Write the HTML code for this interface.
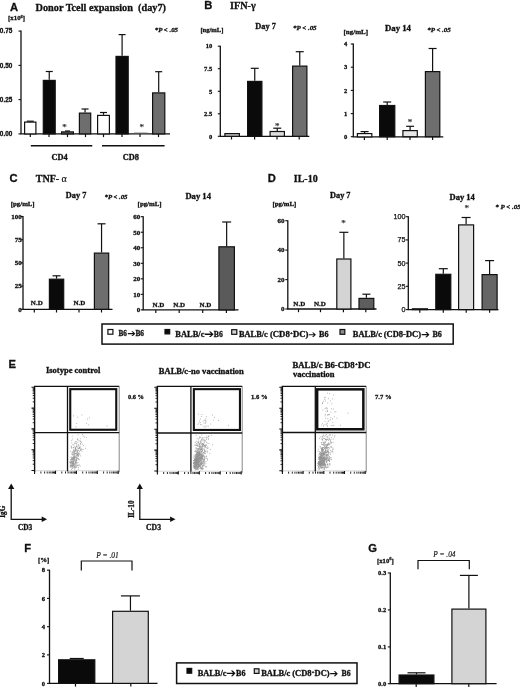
<!DOCTYPE html>
<html><head><meta charset="utf-8"><title>Figure</title>
<style>html,body{margin:0;padding:0;background:#fff}svg{display:block}</style></head>
<body><svg width="520" height="687" viewBox="0 0 520 687">
<rect width="520" height="687" fill="#fff"/>
<text x="10" y="11.1" font-size="11.2" font-weight="bold" font-family='"Liberation Sans", sans-serif' text-anchor="start" font-style="normal" fill="#111"  stroke="#111" stroke-width="0.3">A</text>
<text x="35.5" y="10.9" font-size="10.5" font-weight="bold" font-family='"Liberation Serif", serif' text-anchor="start" font-style="normal" fill="#111" textLength="130.5" lengthAdjust="spacingAndGlyphs"  stroke="#111" stroke-width="0.3">Donor Tcell expansion&#160; (day7)</text>
<text x="8.1" y="20.4" font-size="7" font-weight="bold" font-family='"Liberation Serif", serif' text-anchor="start" font-style="normal" fill="#111" textLength="16.9" lengthAdjust="spacingAndGlyphs"  stroke="#111" stroke-width="0.3">[x10<tspan font-size="4.5" dy="-2.2">6</tspan><tspan dy="2.2">]</tspan></text>
<text x="154.8" y="32" font-size="6.5" font-weight="bold" font-family='"Liberation Serif", serif' text-anchor="start" font-style="italic" fill="#111" textLength="23.2" lengthAdjust="spacingAndGlyphs"  stroke="#111" stroke-width="0.3">*P &lt; .05</text>
<line x1="21" y1="30.6" x2="21" y2="133.9" stroke="#111" stroke-width="1.3"/>
<line x1="20.4" y1="133.9" x2="170" y2="133.9" stroke="#111" stroke-width="1.3"/>
<line x1="18.5" y1="31.1" x2="21" y2="31.1" stroke="#111" stroke-width="1.1"/>
<text x="12.3" y="33.276" font-size="6.4" font-weight="bold" font-family='"Liberation Sans", sans-serif' text-anchor="end" font-style="normal" fill="#111"  stroke="#111" stroke-width="0.3">0.75</text>
<line x1="18.5" y1="65.4" x2="21" y2="65.4" stroke="#111" stroke-width="1.1"/>
<text x="12.3" y="67.57600000000001" font-size="6.4" font-weight="bold" font-family='"Liberation Sans", sans-serif' text-anchor="end" font-style="normal" fill="#111"  stroke="#111" stroke-width="0.3">0.50</text>
<line x1="18.5" y1="99.6" x2="21" y2="99.6" stroke="#111" stroke-width="1.1"/>
<text x="12.3" y="101.776" font-size="6.4" font-weight="bold" font-family='"Liberation Sans", sans-serif' text-anchor="end" font-style="normal" fill="#111"  stroke="#111" stroke-width="0.3">0.25</text>
<line x1="18.5" y1="133.9" x2="21" y2="133.9" stroke="#111" stroke-width="1.1"/>
<text x="12.3" y="136.076" font-size="6.4" font-weight="bold" font-family='"Liberation Sans", sans-serif' text-anchor="end" font-style="normal" fill="#111"  stroke="#111" stroke-width="0.3">0.00</text>
<line x1="30.3" y1="133.9" x2="30.3" y2="137.1" stroke="#111" stroke-width="1.2"/>
<line x1="49" y1="133.9" x2="49" y2="137.1" stroke="#111" stroke-width="1.2"/>
<line x1="67.5" y1="133.9" x2="67.5" y2="137.1" stroke="#111" stroke-width="1.2"/>
<line x1="85.5" y1="133.9" x2="85.5" y2="137.1" stroke="#111" stroke-width="1.2"/>
<line x1="103.5" y1="133.9" x2="103.5" y2="137.1" stroke="#111" stroke-width="1.2"/>
<line x1="122" y1="133.9" x2="122" y2="137.1" stroke="#111" stroke-width="1.2"/>
<line x1="140" y1="133.9" x2="140" y2="137.1" stroke="#111" stroke-width="1.2"/>
<line x1="158.5" y1="133.9" x2="158.5" y2="137.1" stroke="#111" stroke-width="1.2"/>
<line x1="30.25" y1="121.5" x2="30.25" y2="121.2" stroke="#111" stroke-width="1.2"/>
<line x1="26.75" y1="121.2" x2="33.75" y2="121.2" stroke="#111" stroke-width="1.2"/>
<rect x="24.6" y="122.1" width="11.3" height="11.800000000000006" fill="#ffffff" stroke="#111" stroke-width="1.2"/>
<line x1="49.25" y1="79.8" x2="49.25" y2="71.5" stroke="#111" stroke-width="1.2"/>
<line x1="45.75" y1="71.5" x2="52.75" y2="71.5" stroke="#111" stroke-width="1.2"/>
<rect x="43.300000000000004" y="80.39999999999999" width="11.899999999999995" height="53.50000000000001" fill="#0a0a0a" stroke="#111" stroke-width="1.2"/>
<line x1="67.5" y1="131.3" x2="67.5" y2="131" stroke="#111" stroke-width="1.2"/>
<line x1="65.0" y1="131" x2="70.0" y2="131" stroke="#111" stroke-width="1.2"/>
<rect x="61.6" y="131.9" width="11.8" height="1.9999999999999942" fill="#6e6e6e" stroke="#111" stroke-width="1.2"/>
<line x1="85.05" y1="112.5" x2="85.05" y2="109" stroke="#111" stroke-width="1.2"/>
<line x1="81.55" y1="109" x2="88.55" y2="109" stroke="#111" stroke-width="1.2"/>
<rect x="79.39999999999999" y="113.1" width="11.3" height="20.800000000000004" fill="#6e6e6e" stroke="#111" stroke-width="1.2"/>
<line x1="103.5" y1="114.8" x2="103.5" y2="112.5" stroke="#111" stroke-width="1.2"/>
<line x1="100.0" y1="112.5" x2="107.0" y2="112.5" stroke="#111" stroke-width="1.2"/>
<rect x="97.6" y="115.39999999999999" width="11.8" height="18.500000000000007" fill="#ffffff" stroke="#111" stroke-width="1.2"/>
<line x1="122.10000000000001" y1="55.8" x2="122.10000000000001" y2="34.6" stroke="#111" stroke-width="1.2"/>
<line x1="118.60000000000001" y1="34.6" x2="125.60000000000001" y2="34.6" stroke="#111" stroke-width="1.2"/>
<rect x="116.0" y="56.4" width="12.200000000000006" height="77.50000000000001" fill="#0a0a0a" stroke="#111" stroke-width="1.2"/>
<line x1="158.7" y1="92.3" x2="158.7" y2="71.7" stroke="#111" stroke-width="1.2"/>
<line x1="155.2" y1="71.7" x2="162.2" y2="71.7" stroke="#111" stroke-width="1.2"/>
<rect x="152.6" y="92.89999999999999" width="12.200000000000006" height="41.00000000000001" fill="#6e6e6e" stroke="#111" stroke-width="1.2"/>
<line x1="134" y1="133" x2="147.5" y2="133" stroke="#666" stroke-width="0.8"/>
<text x="64.4" y="130.05" font-size="9" font-weight="normal" font-family='"Liberation Serif", serif' text-anchor="middle" font-style="normal" fill="#3a3a3a"  stroke="#3a3a3a" stroke-width="0.25">*</text>
<text x="141.7" y="130.05" font-size="9" font-weight="normal" font-family='"Liberation Serif", serif' text-anchor="middle" font-style="normal" fill="#3a3a3a"  stroke="#3a3a3a" stroke-width="0.25">*</text>
<line x1="30.8" y1="145.8" x2="92.3" y2="145.8" stroke="#111" stroke-width="1.4"/>
<line x1="102" y1="145.8" x2="164.6" y2="145.8" stroke="#111" stroke-width="1.4"/>
<text x="51.5" y="159.6" font-size="8" font-weight="bold" font-family='"Liberation Serif", serif' text-anchor="start" font-style="normal" fill="#111" textLength="16.2" lengthAdjust="spacingAndGlyphs"  stroke="#111" stroke-width="0.3">CD4</text>
<text x="122.7" y="159.6" font-size="8" font-weight="bold" font-family='"Liberation Serif", serif' text-anchor="start" font-style="normal" fill="#111" textLength="16.2" lengthAdjust="spacingAndGlyphs"  stroke="#111" stroke-width="0.3">CD8</text>
<text x="204.2" y="9" font-size="11.2" font-weight="bold" font-family='"Liberation Sans", sans-serif' text-anchor="start" font-style="normal" fill="#111"  stroke="#111" stroke-width="0.3">B</text>
<text x="230" y="8.9" font-size="10" font-weight="bold" font-family='"Liberation Serif", serif' text-anchor="start" font-style="normal" fill="#111" textLength="25.8" lengthAdjust="spacingAndGlyphs"  stroke="#111" stroke-width="0.3">IFN-&#947;</text>
<text x="200.4" y="32" font-size="6.5" font-weight="bold" font-family='"Liberation Serif", serif' text-anchor="start" font-style="normal" fill="#111" textLength="23" lengthAdjust="spacingAndGlyphs"  stroke="#111" stroke-width="0.3">[ng/mL]</text>
<text x="255.3" y="29" font-size="8" font-weight="bold" font-family='"Liberation Serif", serif' text-anchor="start" font-style="normal" fill="#111" textLength="20.5" lengthAdjust="spacingAndGlyphs"  stroke="#111" stroke-width="0.3">Day 7</text>
<text x="293" y="30" font-size="6.5" font-weight="bold" font-family='"Liberation Serif", serif' text-anchor="start" font-style="italic" fill="#111" textLength="23.6" lengthAdjust="spacingAndGlyphs"  stroke="#111" stroke-width="0.3">*P &lt; .05</text>
<line x1="220.3" y1="45.7" x2="220.3" y2="136.3" stroke="#111" stroke-width="1.3"/>
<line x1="219.70000000000002" y1="136.3" x2="309.3" y2="136.3" stroke="#111" stroke-width="1.3"/>
<line x1="217.8" y1="46.2" x2="220.3" y2="46.2" stroke="#111" stroke-width="1.1"/>
<text x="212.2" y="48.410000000000004" font-size="6.5" font-weight="bold" font-family='"Liberation Serif", serif' text-anchor="end" font-style="normal" fill="#111"  stroke="#111" stroke-width="0.3">10</text>
<line x1="217.8" y1="68.7" x2="220.3" y2="68.7" stroke="#111" stroke-width="1.1"/>
<text x="212.2" y="70.91" font-size="6.5" font-weight="bold" font-family='"Liberation Serif", serif' text-anchor="end" font-style="normal" fill="#111"  stroke="#111" stroke-width="0.3">7.5</text>
<line x1="217.8" y1="91.3" x2="220.3" y2="91.3" stroke="#111" stroke-width="1.1"/>
<text x="212.2" y="93.50999999999999" font-size="6.5" font-weight="bold" font-family='"Liberation Serif", serif' text-anchor="end" font-style="normal" fill="#111"  stroke="#111" stroke-width="0.3">5</text>
<line x1="217.8" y1="113.8" x2="220.3" y2="113.8" stroke="#111" stroke-width="1.1"/>
<text x="212.2" y="116.00999999999999" font-size="6.5" font-weight="bold" font-family='"Liberation Serif", serif' text-anchor="end" font-style="normal" fill="#111"  stroke="#111" stroke-width="0.3">2.5</text>
<line x1="217.8" y1="136.3" x2="220.3" y2="136.3" stroke="#111" stroke-width="1.1"/>
<text x="212.2" y="138.51000000000002" font-size="6.5" font-weight="bold" font-family='"Liberation Serif", serif' text-anchor="end" font-style="normal" fill="#111"  stroke="#111" stroke-width="0.3">0</text>
<line x1="231.5" y1="136.3" x2="231.5" y2="139.5" stroke="#111" stroke-width="1.2"/>
<line x1="254.6" y1="136.3" x2="254.6" y2="139.5" stroke="#111" stroke-width="1.2"/>
<line x1="277" y1="136.3" x2="277" y2="139.5" stroke="#111" stroke-width="1.2"/>
<line x1="299.2" y1="136.3" x2="299.2" y2="139.5" stroke="#111" stroke-width="1.2"/>
<rect x="224.9" y="133.6" width="14.49999999999999" height="2.7000000000000113" fill="#c4c4c4" stroke="#111" stroke-width="1.2"/>
<line x1="254.75" y1="80.8" x2="254.75" y2="68.3" stroke="#111" stroke-width="1.2"/>
<line x1="250.75" y1="68.3" x2="258.75" y2="68.3" stroke="#111" stroke-width="1.2"/>
<rect x="247.6" y="81.39999999999999" width="14.3" height="54.90000000000001" fill="#0a0a0a" stroke="#111" stroke-width="1.2"/>
<line x1="277.25" y1="130.9" x2="277.25" y2="128.2" stroke="#111" stroke-width="1.2"/>
<line x1="273.25" y1="128.2" x2="281.25" y2="128.2" stroke="#111" stroke-width="1.2"/>
<rect x="270.1" y="131.5" width="14.3" height="4.800000000000006" fill="#dcdcdc" stroke="#111" stroke-width="1.2"/>
<line x1="299.75" y1="65.5" x2="299.75" y2="51.7" stroke="#111" stroke-width="1.2"/>
<line x1="295.75" y1="51.7" x2="303.75" y2="51.7" stroke="#111" stroke-width="1.2"/>
<rect x="292.6" y="66.1" width="14.3" height="70.20000000000002" fill="#6e6e6e" stroke="#111" stroke-width="1.2"/>
<text x="277.2" y="128.55" font-size="9" font-weight="normal" font-family='"Liberation Serif", serif' text-anchor="middle" font-style="normal" fill="#3a3a3a"  stroke="#3a3a3a" stroke-width="0.25">*</text>
<text x="343.5" y="34" font-size="6.5" font-weight="bold" font-family='"Liberation Serif", serif' text-anchor="start" font-style="normal" fill="#111" textLength="24.5" lengthAdjust="spacingAndGlyphs"  stroke="#111" stroke-width="0.3">[ng/mL]</text>
<text x="385" y="30.5" font-size="8" font-weight="bold" font-family='"Liberation Serif", serif' text-anchor="start" font-style="normal" fill="#111" textLength="26" lengthAdjust="spacingAndGlyphs"  stroke="#111" stroke-width="0.3">Day 14</text>
<text x="427.2" y="31.5" font-size="6.5" font-weight="bold" font-family='"Liberation Serif", serif' text-anchor="start" font-style="italic" fill="#111" textLength="23.6" lengthAdjust="spacingAndGlyphs"  stroke="#111" stroke-width="0.3">*P &lt; .05</text>
<line x1="353.3" y1="43.5" x2="353.3" y2="136.9" stroke="#111" stroke-width="1.3"/>
<line x1="352.7" y1="136.9" x2="443.3" y2="136.9" stroke="#111" stroke-width="1.3"/>
<line x1="350.8" y1="44" x2="353.3" y2="44" stroke="#111" stroke-width="1.1"/>
<text x="347.2" y="46.21" font-size="6.5" font-weight="bold" font-family='"Liberation Serif", serif' text-anchor="end" font-style="normal" fill="#111"  stroke="#111" stroke-width="0.3">4</text>
<line x1="350.8" y1="67.2" x2="353.3" y2="67.2" stroke="#111" stroke-width="1.1"/>
<text x="347.2" y="69.41" font-size="6.5" font-weight="bold" font-family='"Liberation Serif", serif' text-anchor="end" font-style="normal" fill="#111"  stroke="#111" stroke-width="0.3">3</text>
<line x1="350.8" y1="90.4" x2="353.3" y2="90.4" stroke="#111" stroke-width="1.1"/>
<text x="347.2" y="92.61" font-size="6.5" font-weight="bold" font-family='"Liberation Serif", serif' text-anchor="end" font-style="normal" fill="#111"  stroke="#111" stroke-width="0.3">2</text>
<line x1="350.8" y1="113.6" x2="353.3" y2="113.6" stroke="#111" stroke-width="1.1"/>
<text x="347.2" y="115.80999999999999" font-size="6.5" font-weight="bold" font-family='"Liberation Serif", serif' text-anchor="end" font-style="normal" fill="#111"  stroke="#111" stroke-width="0.3">1</text>
<line x1="350.8" y1="136.7" x2="353.3" y2="136.7" stroke="#111" stroke-width="1.1"/>
<text x="347.2" y="138.91" font-size="6.5" font-weight="bold" font-family='"Liberation Serif", serif' text-anchor="end" font-style="normal" fill="#111"  stroke="#111" stroke-width="0.3">0</text>
<line x1="364.4" y1="136.9" x2="364.4" y2="140.1" stroke="#111" stroke-width="1.2"/>
<line x1="387.2" y1="136.9" x2="387.2" y2="140.1" stroke="#111" stroke-width="1.2"/>
<line x1="410" y1="136.9" x2="410" y2="140.1" stroke="#111" stroke-width="1.2"/>
<line x1="432.6" y1="136.9" x2="432.6" y2="140.1" stroke="#111" stroke-width="1.2"/>
<line x1="364.6" y1="133" x2="364.6" y2="131.6" stroke="#111" stroke-width="1.2"/>
<line x1="360.6" y1="131.6" x2="368.6" y2="131.6" stroke="#111" stroke-width="1.2"/>
<rect x="357.40000000000003" y="133.6" width="14.399999999999967" height="3.3000000000000056" fill="#ffffff" stroke="#111" stroke-width="1.2"/>
<line x1="387.2" y1="104.9" x2="387.2" y2="102" stroke="#111" stroke-width="1.2"/>
<line x1="383.2" y1="102" x2="391.2" y2="102" stroke="#111" stroke-width="1.2"/>
<rect x="379.6" y="105.5" width="15.199999999999978" height="31.19999999999998" fill="#0a0a0a" stroke="#111" stroke-width="1.2"/>
<line x1="410.1" y1="130" x2="410.1" y2="126.3" stroke="#111" stroke-width="1.2"/>
<line x1="406.1" y1="126.3" x2="414.1" y2="126.3" stroke="#111" stroke-width="1.2"/>
<rect x="402.90000000000003" y="130.6" width="14.399999999999967" height="6.099999999999989" fill="#e6e6e6" stroke="#111" stroke-width="1.2"/>
<line x1="432.6" y1="71" x2="432.6" y2="48.5" stroke="#111" stroke-width="1.2"/>
<line x1="428.6" y1="48.5" x2="436.6" y2="48.5" stroke="#111" stroke-width="1.2"/>
<rect x="425.40000000000003" y="71.6" width="14.399999999999967" height="65.1" fill="#6e6e6e" stroke="#111" stroke-width="1.2"/>
<text x="410" y="125.25" font-size="9" font-weight="normal" font-family='"Liberation Serif", serif' text-anchor="middle" font-style="normal" fill="#3a3a3a"  stroke="#3a3a3a" stroke-width="0.25">*</text>
<text x="9.6" y="181.8" font-size="11.2" font-weight="bold" font-family='"Liberation Sans", sans-serif' text-anchor="start" font-style="normal" fill="#111"  stroke="#111" stroke-width="0.3">C</text>
<text x="35.7" y="181.5" font-size="10" font-weight="bold" font-family='"Liberation Serif", serif' text-anchor="start" font-style="normal" fill="#111" textLength="31.2" lengthAdjust="spacingAndGlyphs"  stroke="#111" stroke-width="0.3">TNF- <tspan font-weight="normal" stroke-width="0.15">&#945;</tspan></text>
<text x="65.8" y="197.6" font-size="8" font-weight="bold" font-family='"Liberation Serif", serif' text-anchor="start" font-style="normal" fill="#111" textLength="20.5" lengthAdjust="spacingAndGlyphs"  stroke="#111" stroke-width="0.3">Day 7</text>
<text x="104.5" y="199" font-size="6.5" font-weight="bold" font-family='"Liberation Serif", serif' text-anchor="start" font-style="italic" fill="#111" textLength="23" lengthAdjust="spacingAndGlyphs"  stroke="#111" stroke-width="0.3">*P &lt; .05</text>
<text x="10.8" y="206.3" font-size="6.5" font-weight="bold" font-family='"Liberation Serif", serif' text-anchor="start" font-style="normal" fill="#111" textLength="23.8" lengthAdjust="spacingAndGlyphs"  stroke="#111" stroke-width="0.3">[pg/mL]</text>
<line x1="23" y1="216.0" x2="23" y2="309.3" stroke="#111" stroke-width="1.3"/>
<line x1="22.4" y1="309.3" x2="112.5" y2="309.3" stroke="#111" stroke-width="1.3"/>
<line x1="20.5" y1="216.5" x2="23" y2="216.5" stroke="#111" stroke-width="1.1"/>
<text x="21.7" y="218.88" font-size="7" font-weight="bold" font-family='"Liberation Serif", serif' text-anchor="end" font-style="normal" fill="#111"  stroke="#111" stroke-width="0.3">100</text>
<line x1="20.5" y1="239.7" x2="23" y2="239.7" stroke="#111" stroke-width="1.1"/>
<text x="21.7" y="242.07999999999998" font-size="7" font-weight="bold" font-family='"Liberation Serif", serif' text-anchor="end" font-style="normal" fill="#111"  stroke="#111" stroke-width="0.3">75</text>
<line x1="20.5" y1="262.9" x2="23" y2="262.9" stroke="#111" stroke-width="1.1"/>
<text x="21.7" y="265.28" font-size="7" font-weight="bold" font-family='"Liberation Serif", serif' text-anchor="end" font-style="normal" fill="#111"  stroke="#111" stroke-width="0.3">50</text>
<line x1="20.5" y1="286.1" x2="23" y2="286.1" stroke="#111" stroke-width="1.1"/>
<text x="21.7" y="288.48" font-size="7" font-weight="bold" font-family='"Liberation Serif", serif' text-anchor="end" font-style="normal" fill="#111"  stroke="#111" stroke-width="0.3">25</text>
<line x1="20.5" y1="309.3" x2="23" y2="309.3" stroke="#111" stroke-width="1.1"/>
<text x="21.7" y="311.68" font-size="7" font-weight="bold" font-family='"Liberation Serif", serif' text-anchor="end" font-style="normal" fill="#111"  stroke="#111" stroke-width="0.3">0</text>
<line x1="34.3" y1="309.3" x2="34.3" y2="312.5" stroke="#111" stroke-width="1.2"/>
<line x1="56.5" y1="309.3" x2="56.5" y2="312.5" stroke="#111" stroke-width="1.2"/>
<line x1="79" y1="309.3" x2="79" y2="312.5" stroke="#111" stroke-width="1.2"/>
<line x1="101.5" y1="309.3" x2="101.5" y2="312.5" stroke="#111" stroke-width="1.2"/>
<text x="36.8" y="305" font-size="7" font-weight="bold" font-family='"Liberation Serif", serif' text-anchor="middle" font-style="normal" fill="#111"  stroke="#111" stroke-width="0.3">N.D</text>
<text x="79.5" y="305" font-size="7" font-weight="bold" font-family='"Liberation Serif", serif' text-anchor="middle" font-style="normal" fill="#111"  stroke="#111" stroke-width="0.3">N.D</text>
<line x1="56.55" y1="278.6" x2="56.55" y2="275.8" stroke="#111" stroke-width="1.2"/>
<line x1="52.55" y1="275.8" x2="60.55" y2="275.8" stroke="#111" stroke-width="1.2"/>
<rect x="49.4" y="279.20000000000005" width="14.3" height="30.099999999999987" fill="#0a0a0a" stroke="#111" stroke-width="1.2"/>
<line x1="101.55" y1="252.5" x2="101.55" y2="223.8" stroke="#111" stroke-width="1.2"/>
<line x1="97.55" y1="223.8" x2="105.55" y2="223.8" stroke="#111" stroke-width="1.2"/>
<rect x="94.39999999999999" y="253.1" width="14.3" height="56.20000000000001" fill="#6e6e6e" stroke="#111" stroke-width="1.2"/>
<text x="185.4" y="199.2" font-size="8" font-weight="bold" font-family='"Liberation Serif", serif' text-anchor="start" font-style="normal" fill="#111" textLength="25.6" lengthAdjust="spacingAndGlyphs"  stroke="#111" stroke-width="0.3">Day 14</text>
<text x="137.6" y="206" font-size="6.5" font-weight="bold" font-family='"Liberation Serif", serif' text-anchor="start" font-style="normal" fill="#111" textLength="24" lengthAdjust="spacingAndGlyphs"  stroke="#111" stroke-width="0.3">[pg/mL]</text>
<line x1="143.2" y1="216.2" x2="143.2" y2="309.9" stroke="#111" stroke-width="1.3"/>
<line x1="142.6" y1="309.9" x2="238.5" y2="309.9" stroke="#111" stroke-width="1.3"/>
<line x1="140.7" y1="216.7" x2="143.2" y2="216.7" stroke="#111" stroke-width="1.1"/>
<text x="140.3" y="219.07999999999998" font-size="7" font-weight="bold" font-family='"Liberation Serif", serif' text-anchor="end" font-style="normal" fill="#111"  stroke="#111" stroke-width="0.3">60</text>
<line x1="140.7" y1="232.23" x2="143.2" y2="232.23" stroke="#111" stroke-width="1.1"/>
<text x="140.3" y="234.60999999999999" font-size="7" font-weight="bold" font-family='"Liberation Serif", serif' text-anchor="end" font-style="normal" fill="#111"  stroke="#111" stroke-width="0.3">50</text>
<line x1="140.7" y1="247.76" x2="143.2" y2="247.76" stroke="#111" stroke-width="1.1"/>
<text x="140.3" y="250.14" font-size="7" font-weight="bold" font-family='"Liberation Serif", serif' text-anchor="end" font-style="normal" fill="#111"  stroke="#111" stroke-width="0.3">40</text>
<line x1="140.7" y1="263.28999999999996" x2="143.2" y2="263.28999999999996" stroke="#111" stroke-width="1.1"/>
<text x="140.3" y="265.66999999999996" font-size="7" font-weight="bold" font-family='"Liberation Serif", serif' text-anchor="end" font-style="normal" fill="#111"  stroke="#111" stroke-width="0.3">30</text>
<line x1="140.7" y1="278.82" x2="143.2" y2="278.82" stroke="#111" stroke-width="1.1"/>
<text x="140.3" y="281.2" font-size="7" font-weight="bold" font-family='"Liberation Serif", serif' text-anchor="end" font-style="normal" fill="#111"  stroke="#111" stroke-width="0.3">20</text>
<line x1="140.7" y1="294.34999999999997" x2="143.2" y2="294.34999999999997" stroke="#111" stroke-width="1.1"/>
<text x="140.3" y="296.72999999999996" font-size="7" font-weight="bold" font-family='"Liberation Serif", serif' text-anchor="end" font-style="normal" fill="#111"  stroke="#111" stroke-width="0.3">10</text>
<line x1="140.7" y1="309.88" x2="143.2" y2="309.88" stroke="#111" stroke-width="1.1"/>
<text x="140.3" y="312.26" font-size="7" font-weight="bold" font-family='"Liberation Serif", serif' text-anchor="end" font-style="normal" fill="#111"  stroke="#111" stroke-width="0.3">0</text>
<line x1="155.8" y1="309.9" x2="155.8" y2="313.09999999999997" stroke="#111" stroke-width="1.2"/>
<line x1="179.2" y1="309.9" x2="179.2" y2="313.09999999999997" stroke="#111" stroke-width="1.2"/>
<line x1="202.7" y1="309.9" x2="202.7" y2="313.09999999999997" stroke="#111" stroke-width="1.2"/>
<line x1="226.4" y1="309.9" x2="226.4" y2="313.09999999999997" stroke="#111" stroke-width="1.2"/>
<text x="158.5" y="306.5" font-size="7" font-weight="bold" font-family='"Liberation Serif", serif' text-anchor="middle" font-style="normal" fill="#111"  stroke="#111" stroke-width="0.3">N.D</text>
<text x="179.2" y="306.5" font-size="7" font-weight="bold" font-family='"Liberation Serif", serif' text-anchor="middle" font-style="normal" fill="#111"  stroke="#111" stroke-width="0.3">N.D</text>
<text x="205.4" y="306.5" font-size="7" font-weight="bold" font-family='"Liberation Serif", serif' text-anchor="middle" font-style="normal" fill="#111"  stroke="#111" stroke-width="0.3">N.D</text>
<line x1="226.65" y1="246.2" x2="226.65" y2="222" stroke="#111" stroke-width="1.2"/>
<line x1="222.15" y1="222" x2="231.15" y2="222" stroke="#111" stroke-width="1.2"/>
<rect x="218.9" y="246.79999999999998" width="15.49999999999999" height="63.09999999999999" fill="#5a5a5a" stroke="#111" stroke-width="1.2"/>
<text x="267.7" y="181.9" font-size="11.2" font-weight="bold" font-family='"Liberation Sans", sans-serif' text-anchor="start" font-style="normal" fill="#111"  stroke="#111" stroke-width="0.3">D</text>
<text x="293.8" y="181.6" font-size="10" font-weight="bold" font-family='"Liberation Serif", serif' text-anchor="start" font-style="normal" fill="#111" textLength="23.9" lengthAdjust="spacingAndGlyphs"  stroke="#111" stroke-width="0.3">IL-10</text>
<text x="330" y="197.7" font-size="8" font-weight="bold" font-family='"Liberation Serif", serif' text-anchor="start" font-style="normal" fill="#111" textLength="20.5" lengthAdjust="spacingAndGlyphs"  stroke="#111" stroke-width="0.3">Day 7</text>
<text x="272.6" y="205.5" font-size="6.5" font-weight="bold" font-family='"Liberation Serif", serif' text-anchor="start" font-style="normal" fill="#111" textLength="23.6" lengthAdjust="spacingAndGlyphs"  stroke="#111" stroke-width="0.3">[pg/mL]</text>
<line x1="287.8" y1="220.2" x2="287.8" y2="309" stroke="#111" stroke-width="1.3"/>
<line x1="287.2" y1="309" x2="376.5" y2="309" stroke="#111" stroke-width="1.3"/>
<line x1="285.3" y1="220.7" x2="287.8" y2="220.7" stroke="#111" stroke-width="1.1"/>
<text x="284.6" y="223.07999999999998" font-size="7" font-weight="bold" font-family='"Liberation Serif", serif' text-anchor="end" font-style="normal" fill="#111"  stroke="#111" stroke-width="0.3">60</text>
<line x1="285.3" y1="250.1" x2="287.8" y2="250.1" stroke="#111" stroke-width="1.1"/>
<text x="284.6" y="252.48" font-size="7" font-weight="bold" font-family='"Liberation Serif", serif' text-anchor="end" font-style="normal" fill="#111"  stroke="#111" stroke-width="0.3">40</text>
<line x1="285.3" y1="279.6" x2="287.8" y2="279.6" stroke="#111" stroke-width="1.1"/>
<text x="284.6" y="281.98" font-size="7" font-weight="bold" font-family='"Liberation Serif", serif' text-anchor="end" font-style="normal" fill="#111"  stroke="#111" stroke-width="0.3">20</text>
<line x1="285.3" y1="309" x2="287.8" y2="309" stroke="#111" stroke-width="1.1"/>
<text x="284.6" y="311.38" font-size="7" font-weight="bold" font-family='"Liberation Serif", serif' text-anchor="end" font-style="normal" fill="#111"  stroke="#111" stroke-width="0.3">0</text>
<line x1="298.5" y1="309" x2="298.5" y2="312.2" stroke="#111" stroke-width="1.2"/>
<line x1="320.5" y1="309" x2="320.5" y2="312.2" stroke="#111" stroke-width="1.2"/>
<line x1="343.4" y1="309" x2="343.4" y2="312.2" stroke="#111" stroke-width="1.2"/>
<line x1="365.8" y1="309" x2="365.8" y2="312.2" stroke="#111" stroke-width="1.2"/>
<text x="299.3" y="306" font-size="7" font-weight="bold" font-family='"Liberation Serif", serif' text-anchor="middle" font-style="normal" fill="#111"  stroke="#111" stroke-width="0.3">N.D</text>
<text x="320" y="306" font-size="7" font-weight="bold" font-family='"Liberation Serif", serif' text-anchor="middle" font-style="normal" fill="#111"  stroke="#111" stroke-width="0.3">N.D</text>
<line x1="343.85" y1="258.4" x2="343.85" y2="232.3" stroke="#111" stroke-width="1.2"/>
<line x1="339.35" y1="232.3" x2="348.35" y2="232.3" stroke="#111" stroke-width="1.2"/>
<rect x="336.8" y="259.0" width="14.100000000000012" height="50.00000000000002" fill="#d4d4d4" stroke="#111" stroke-width="1.2"/>
<line x1="366.4" y1="297.8" x2="366.4" y2="294.2" stroke="#111" stroke-width="1.2"/>
<line x1="362.4" y1="294.2" x2="370.4" y2="294.2" stroke="#111" stroke-width="1.2"/>
<rect x="359.0" y="298.40000000000003" width="14.8" height="10.599999999999989" fill="#5e5e5e" stroke="#111" stroke-width="1.2"/>
<text x="343.4" y="226.45000000000002" font-size="9" font-weight="normal" font-family='"Liberation Serif", serif' text-anchor="middle" font-style="normal" fill="#3a3a3a"  stroke="#3a3a3a" stroke-width="0.25">*</text>
<text x="449.5" y="199.5" font-size="8" font-weight="bold" font-family='"Liberation Serif", serif' text-anchor="start" font-style="normal" fill="#111" textLength="25.3" lengthAdjust="spacingAndGlyphs"  stroke="#111" stroke-width="0.3">Day 14</text>
<text x="495.3" y="209.3" font-size="7" font-weight="bold" font-family='"Liberation Serif", serif' text-anchor="start" font-style="italic" fill="#111" textLength="25.5" lengthAdjust="spacingAndGlyphs"  stroke="#111" stroke-width="0.3">* P &lt; .05</text>
<text x="466.7" y="211.35000000000002" font-size="9" font-weight="normal" font-family='"Liberation Serif", serif' text-anchor="middle" font-style="normal" fill="#3a3a3a"  stroke="#3a3a3a" stroke-width="0.25">*</text>
<line x1="408.3" y1="216.2" x2="408.3" y2="309.6" stroke="#111" stroke-width="1.3"/>
<line x1="407.7" y1="309.6" x2="498.5" y2="309.6" stroke="#111" stroke-width="1.3"/>
<line x1="405.8" y1="216.7" x2="408.3" y2="216.7" stroke="#111" stroke-width="1.1"/>
<text x="405.5" y="219.148" font-size="7.2" font-weight="normal" font-family='"Liberation Sans", sans-serif' text-anchor="end" font-style="normal" fill="#111"  stroke="#111" stroke-width="0.25">100</text>
<line x1="405.8" y1="239.9" x2="408.3" y2="239.9" stroke="#111" stroke-width="1.1"/>
<text x="405.5" y="242.348" font-size="7.2" font-weight="normal" font-family='"Liberation Sans", sans-serif' text-anchor="end" font-style="normal" fill="#111"  stroke="#111" stroke-width="0.25">75</text>
<line x1="405.8" y1="263.1" x2="408.3" y2="263.1" stroke="#111" stroke-width="1.1"/>
<text x="405.5" y="265.548" font-size="7.2" font-weight="normal" font-family='"Liberation Sans", sans-serif' text-anchor="end" font-style="normal" fill="#111"  stroke="#111" stroke-width="0.25">50</text>
<line x1="405.8" y1="286.3" x2="408.3" y2="286.3" stroke="#111" stroke-width="1.1"/>
<text x="405.5" y="288.748" font-size="7.2" font-weight="normal" font-family='"Liberation Sans", sans-serif' text-anchor="end" font-style="normal" fill="#111"  stroke="#111" stroke-width="0.25">25</text>
<line x1="405.8" y1="309.6" x2="408.3" y2="309.6" stroke="#111" stroke-width="1.1"/>
<text x="405.5" y="312.048" font-size="7.2" font-weight="normal" font-family='"Liberation Sans", sans-serif' text-anchor="end" font-style="normal" fill="#111"  stroke="#111" stroke-width="0.25">0</text>
<line x1="419.8" y1="309.6" x2="419.8" y2="312.8" stroke="#111" stroke-width="1.2"/>
<line x1="443.3" y1="309.6" x2="443.3" y2="312.8" stroke="#111" stroke-width="1.2"/>
<line x1="466.2" y1="309.6" x2="466.2" y2="312.8" stroke="#111" stroke-width="1.2"/>
<line x1="489.6" y1="309.6" x2="489.6" y2="312.8" stroke="#111" stroke-width="1.2"/>
<rect x="412.40000000000003" y="308.8" width="14.99999999999999" height="0.8000000000000341" fill="#6e6e6e" stroke="#111" stroke-width="1.2"/>
<line x1="443.29999999999995" y1="273.7" x2="443.29999999999995" y2="268.7" stroke="#111" stroke-width="1.2"/>
<line x1="438.79999999999995" y1="268.7" x2="447.79999999999995" y2="268.7" stroke="#111" stroke-width="1.2"/>
<rect x="435.8" y="274.3" width="14.99999999999999" height="35.30000000000003" fill="#0a0a0a" stroke="#111" stroke-width="1.2"/>
<line x1="466.1" y1="224.3" x2="466.1" y2="217.5" stroke="#111" stroke-width="1.2"/>
<line x1="461.6" y1="217.5" x2="470.6" y2="217.5" stroke="#111" stroke-width="1.2"/>
<rect x="458.6" y="224.9" width="14.99999999999999" height="84.70000000000002" fill="#dedede" stroke="#111" stroke-width="1.2"/>
<line x1="489.6" y1="274" x2="489.6" y2="260.6" stroke="#111" stroke-width="1.2"/>
<line x1="485.1" y1="260.6" x2="494.1" y2="260.6" stroke="#111" stroke-width="1.2"/>
<rect x="482.1" y="274.6" width="14.99999999999999" height="35.00000000000002" fill="#666" stroke="#111" stroke-width="1.2"/>
<rect x="102" y="324" width="351.2" height="20.1" fill="#fff" stroke="#111" stroke-width="1.5"/>
<rect x="107.89999999999999" y="329.5" width="5.000000000000003" height="4.700000000000034" fill="#fff" stroke="#111" stroke-width="1.2"/>
<text x="118.5" y="336.4" font-size="7.2" font-weight="bold" font-family='"Liberation Serif", serif' text-anchor="start" font-style="normal" fill="#111" textLength="8.4" lengthAdjust="spacingAndGlyphs"  stroke="#111" stroke-width="0.3">B6</text>
<text x="127.29" y="337.22" font-size="10.29" font-weight="bold" font-family='"DejaVu Sans", sans-serif' text-anchor="start" font-style="normal" fill="#111" >&#10132;</text>
<text x="135.4" y="336.4" font-size="7.2" font-weight="bold" font-family='"Liberation Serif", serif' text-anchor="start" font-style="normal" fill="#111" textLength="8.6" lengthAdjust="spacingAndGlyphs"  stroke="#111" stroke-width="0.3">B6</text>
<rect x="165.0" y="329.5" width="4.7000000000000055" height="4.400000000000023" fill="#0a0a0a" stroke="#111" stroke-width="1.2"/>
<text x="175.3" y="337.3" font-size="8" font-weight="bold" font-family='"Liberation Serif", serif' text-anchor="start" font-style="normal" fill="#111" textLength="29.1" lengthAdjust="spacingAndGlyphs"  stroke="#111" stroke-width="0.3">BALB/c</text>
<text x="204.21" y="338.25" font-size="11.86" font-weight="bold" font-family='"DejaVu Sans", sans-serif' text-anchor="start" font-style="normal" fill="#111" >&#10132;</text>
<text x="213.8" y="337.3" font-size="8" font-weight="bold" font-family='"Liberation Serif", serif' text-anchor="start" font-style="normal" fill="#111" textLength="9.0" lengthAdjust="spacingAndGlyphs"  stroke="#111" stroke-width="0.3">B6</text>
<rect x="231.7" y="329.70000000000005" width="5.100000000000011" height="4.599999999999954" fill="#d4d4d4" stroke="#111" stroke-width="1.2"/>
<text x="239" y="337.3" font-size="8" font-weight="bold" font-family='"Liberation Serif", serif' text-anchor="start" font-style="normal" fill="#111" textLength="28.8" lengthAdjust="spacingAndGlyphs"  stroke="#111" stroke-width="0.3">BALB/c</text>
<text x="269.9" y="337.3" font-size="8" font-weight="bold" font-family='"Liberation Serif", serif' text-anchor="start" font-style="normal" fill="#111" textLength="38.6" lengthAdjust="spacingAndGlyphs"  stroke="#111" stroke-width="0.3">(CD8<tspan font-size="5" dy="-3.2">+</tspan><tspan dy="3.2">DC)</tspan></text>
<text x="308.31" y="338.08" font-size="9.71" font-weight="bold" font-family='"DejaVu Sans", sans-serif' text-anchor="start" font-style="normal" fill="#111" >&#10132;</text>
<text x="319" y="337.3" font-size="8" font-weight="bold" font-family='"Liberation Serif", serif' text-anchor="start" font-style="normal" fill="#111" textLength="9.5" lengthAdjust="spacingAndGlyphs"  stroke="#111" stroke-width="0.3">B6</text>
<rect x="340.0" y="329.5" width="4.8" height="4.8" fill="#8c8c8c" stroke="#111" stroke-width="1.2"/>
<text x="352.8" y="337.4" font-size="8" font-weight="bold" font-family='"Liberation Serif", serif' text-anchor="start" font-style="normal" fill="#111" textLength="29.1" lengthAdjust="spacingAndGlyphs"  stroke="#111" stroke-width="0.3">BALB/c</text>
<text x="383.8" y="337.4" font-size="8" font-weight="bold" font-family='"Liberation Serif", serif' text-anchor="start" font-style="normal" fill="#111" textLength="37.2" lengthAdjust="spacingAndGlyphs"  stroke="#111" stroke-width="0.3">(CD8-DC)</text>
<text x="420.96" y="338.26" font-size="10.71" font-weight="bold" font-family='"DejaVu Sans", sans-serif' text-anchor="start" font-style="normal" fill="#111" >&#10132;</text>
<text x="432.5" y="337.4" font-size="8" font-weight="bold" font-family='"Liberation Serif", serif' text-anchor="start" font-style="normal" fill="#111" textLength="9.4" lengthAdjust="spacingAndGlyphs"  stroke="#111" stroke-width="0.3">B6</text>
<text x="8.5" y="367.9" font-size="11.2" font-weight="bold" font-family='"Liberation Sans", sans-serif' text-anchor="start" font-style="normal" fill="#111"  stroke="#111" stroke-width="0.3">E</text>
<text x="46" y="373.2" font-size="7.8" font-weight="bold" font-family='"Liberation Serif", serif' text-anchor="start" font-style="normal" fill="#111" textLength="54.4" lengthAdjust="spacingAndGlyphs"  stroke="#111" stroke-width="0.3">Isotype control</text>
<text x="158.8" y="373.6" font-size="7.8" font-weight="bold" font-family='"Liberation Serif", serif' text-anchor="start" font-style="normal" fill="#111" textLength="85" lengthAdjust="spacingAndGlyphs"  stroke="#111" stroke-width="0.3">BALB/c-no vaccination</text>
<text x="292.5" y="368" font-size="7.8" font-weight="bold" font-family='"Liberation Serif", serif' text-anchor="start" font-style="normal" fill="#111" textLength="78" lengthAdjust="spacingAndGlyphs"  stroke="#111" stroke-width="0.3">BALB/c B6-CD8<tspan font-size="5" dy="-2.6">+</tspan><tspan dy="2.6">DC</tspan></text>
<text x="293" y="377.4" font-size="7.8" font-weight="bold" font-family='"Liberation Serif", serif' text-anchor="start" font-style="normal" fill="#111" textLength="41.5" lengthAdjust="spacingAndGlyphs"  stroke="#111" stroke-width="0.3">vaccination</text>
<text x="128" y="399" font-size="7" font-weight="bold" font-family='"Liberation Serif", serif' text-anchor="start" font-style="normal" fill="#111" textLength="16" lengthAdjust="spacingAndGlyphs"  stroke="#111" stroke-width="0.3">0.6 %</text>
<text x="251" y="399" font-size="7" font-weight="bold" font-family='"Liberation Serif", serif' text-anchor="start" font-style="normal" fill="#111" textLength="16.5" lengthAdjust="spacingAndGlyphs"  stroke="#111" stroke-width="0.3">1.6 %</text>
<text x="375" y="399" font-size="7" font-weight="bold" font-family='"Liberation Serif", serif' text-anchor="start" font-style="normal" fill="#111" textLength="16.5" lengthAdjust="spacingAndGlyphs"  stroke="#111" stroke-width="0.3">7.7 %</text>
<line x1="34.0" y1="386.3" x2="119.2" y2="386.3" stroke="#111" stroke-width="1.3"/>
<line x1="34.6" y1="386.3" x2="34.6" y2="471.8" stroke="#111" stroke-width="1.4"/>
<line x1="119.2" y1="386.3" x2="119.2" y2="472.3" stroke="#555" stroke-width="0.7"/>
<line x1="34.6" y1="470.7" x2="119.2" y2="470.7" stroke="#aaa" stroke-width="0.5"/>
<path d="M32.7 464.2H34.6M40.9 471.5V473.5M32.7 460.6H34.6M44.6 471.5V473.5M32.7 458.0H34.6M47.2 471.5V473.5M32.7 456.0H34.6M49.2 471.5V473.5M32.7 454.3H34.6M50.9 471.5V473.5M32.7 452.9H34.6M52.3 471.5V473.5M32.7 451.7H34.6M53.5 471.5V473.5M32.7 450.7H34.6M54.5 471.5V473.5M32.7 443.5H34.6M61.8 471.5V473.5M32.7 439.8H34.6M65.5 471.5V473.5M32.7 437.2H34.6M68.1 471.5V473.5M32.7 435.2H34.6M70.1 471.5V473.5M32.7 433.5H34.6M71.7 471.5V473.5M32.7 432.1H34.6M73.1 471.5V473.5M32.7 430.9H34.6M74.4 471.5V473.5M32.7 429.9H34.6M75.4 471.5V473.5M32.7 422.7H34.6M82.7 471.5V473.5M32.7 419.0H34.6M86.3 471.5V473.5M32.7 416.4H34.6M89.0 471.5V473.5M32.7 414.4H34.6M91.0 471.5V473.5M32.7 412.7H34.6M92.6 471.5V473.5M32.7 411.4H34.6M94.0 471.5V473.5M32.7 410.1H34.6M95.2 471.5V473.5M32.7 409.1H34.6M96.3 471.5V473.5M32.7 401.9H34.6M103.6 471.5V473.5M32.7 398.2H34.6M107.2 471.5V473.5M32.7 395.6H34.6M109.8 471.5V473.5M32.7 393.6H34.6M111.9 471.5V473.5M32.7 392.0H34.6M113.5 471.5V473.5M32.7 390.6H34.6M114.9 471.5V473.5M32.7 389.4H34.6M116.1 471.5V473.5M32.7 388.3H34.6M117.2 471.5V473.5" stroke="#111" stroke-width="0.9" fill="none"/>
<path d="M31.5 470.5H34.6M34.6 470.8V473.9M31.5 449.7H34.6M55.5 470.8V473.9M31.5 428.9H34.6M76.4 470.8V473.9M31.5 408.1H34.6M97.3 470.8V473.9M31.5 387.3H34.6M118.2 470.8V473.9" stroke="#111" stroke-width="1.1" fill="none"/>
<line x1="67.5" y1="386.3" x2="67.5" y2="471.3" stroke="#111" stroke-width="1.3"/>
<line x1="34.6" y1="432.7" x2="119.2" y2="432.7" stroke="#111" stroke-width="1.3"/>
<rect x="70.25" y="389.15000000000003" width="45.99999999999999" height="40.59999999999999" fill="none" stroke="#111" stroke-width="2.1"/>
<path d="M79.0 448.3h.8M76.4 463.2h.8M74.2 457.3h.8M72.5 454.8h.8M76.3 465.0h.8M70.4 465.9h.8M70.5 457.3h.8M77.5 462.7h.8M76.4 466.8h.8M76.6 447.4h.8M70.5 463.3h.8M75.2 450.4h.8M75.6 460.7h.8M69.9 465.7h.8M73.6 459.3h.8M74.6 451.4h.8M74.9 463.1h.8M71.8 464.8h.8M74.9 441.3h.8M78.2 459.1h.8M73.4 465.6h.8M72.3 458.7h.8M81.5 451.2h.8M71.4 442.7h.8M75.7 467.3h.8M70.2 462.5h.8M74.5 446.3h.8M73.8 466.9h.8M75.0 456.6h.8M70.0 465.4h.8M78.0 448.5h.8M73.0 450.1h.8M73.7 464.1h.8M77.5 459.2h.8M75.8 460.0h.8M72.4 461.6h.8M80.2 441.1h.8M72.9 457.1h.8M71.6 462.1h.8M76.6 444.7h.8M81.9 444.3h.8M76.3 453.8h.8M73.7 464.5h.8M76.9 452.2h.8M75.9 450.7h.8M70.6 467.6h.8M78.9 440.9h.8M73.6 457.0h.8M76.2 455.9h.8M71.4 440.5h.8M80.2 449.4h.8M71.0 465.3h.8M83.0 445.7h.8M72.0 459.2h.8M72.6 467.8h.8M72.6 460.9h.8M71.3 465.1h.8M76.3 462.9h.8M71.6 458.6h.8M76.6 457.9h.8M74.5 453.3h.8M73.6 454.7h.8M69.7 466.8h.8M72.2 466.0h.8M76.6 465.9h.8M82.7 449.5h.8M73.1 455.9h.8M71.8 436.1h.8M83.9 437.0h.8M70.7 446.1h.8M76.2 449.4h.8M75.0 448.5h.8M72.3 462.2h.8M73.4 458.9h.8M73.9 460.0h.8M71.3 460.3h.8M74.3 453.6h.8M73.7 467.1h.8M76.8 449.0h.8M75.7 461.9h.8M74.3 456.9h.8M80.0 443.2h.8M74.0 464.1h.8M76.5 456.0h.8M72.1 452.0h.8M77.4 465.5h.8M73.3 463.1h.8M75.1 449.8h.8M71.1 454.0h.8M79.6 447.3h.8M71.9 457.7h.8M73.0 452.3h.8M71.5 458.7h.8M74.2 459.9h.8M74.9 462.1h.8M73.0 463.5h.8M79.6 448.6h.8M72.4 465.4h.8M74.0 469.8h.8M73.2 461.7h.8M75.3 467.9h.8M76.1 446.5h.8M75.6 466.4h.8M72.5 465.4h.8M70.3 466.6h.8M78.1 450.5h.8M76.9 465.1h.8M78.1 453.6h.8M77.4 446.8h.8M73.4 445.0h.8M73.9 455.9h.8M70.3 451.5h.8M79.8 466.2h.8M71.9 458.9h.8M78.0 455.9h.8M72.9 457.3h.8M71.3 447.7h.8M80.5 441.5h.8M77.3 438.7h.8M73.8 451.8h.8M73.8 461.4h.8M71.3 448.0h.8M75.2 448.7h.8M73.5 447.6h.8M71.1 469.5h.8M71.8 459.6h.8M74.9 460.8h.8M70.9 461.3h.8M73.7 458.5h.8M78.2 445.0h.8M72.6 464.8h.8M78.0 455.3h.8M71.9 462.0h.8M70.7 465.2h.8M79.9 444.0h.8M72.1 466.6h.8M79.2 447.4h.8M76.8 453.6h.8M80.3 455.9h.8M73.2 461.7h.8M79.9 438.7h.8M78.4 446.2h.8M76.9 439.5h.8M79.5 454.0h.8M74.6 465.0h.8M71.9 439.0h.8M69.5 462.2h.8M73.6 458.4h.8M72.3 452.9h.8M76.0 445.8h.8M77.6 453.3h.8M74.8 448.6h.8M73.1 458.3h.8M72.5 464.3h.8M72.9 453.2h.8M73.8 466.8h.8M85.2 448.3h.8M79.2 459.7h.8M77.3 451.4h.8M77.4 442.3h.8M75.6 457.9h.8M75.2 447.5h.8M75.1 457.5h.8M70.5 459.7h.8M72.9 463.7h.8M70.6 462.8h.8M82.6 436.1h.8M78.0 454.9h.8M74.8 443.2h.8M74.0 443.2h.8M78.9 453.1h.8M72.1 463.6h.8M75.9 457.5h.8M75.2 462.1h.8M77.6 434.8h.8M76.9 451.0h.8M78.1 448.7h.8M76.7 454.3h.8M80.9 448.9h.8M73.4 454.3h.8M71.8 465.7h.8M73.6 457.0h.8M73.3 465.5h.8M77.5 456.0h.8M74.8 465.4h.8M69.8 464.0h.8M77.8 456.3h.8M75.2 467.6h.8M72.3 466.3h.8M72.7 459.8h.8M77.0 450.4h.8M72.4 454.5h.8M71.4 459.4h.8M75.4 462.3h.8M78.3 467.4h.8M74.5 450.4h.8M80.5 450.3h.8M76.4 441.6h.8M71.1 462.8h.8M75.2 464.9h.8M73.1 447.6h.8M74.1 466.7h.8M73.7 451.9h.8M78.9 448.0h.8M70.3 462.1h.8M76.3 460.7h.8M73.2 450.3h.8M73.9 468.1h.8M72.5 466.8h.8M69.6 462.1h.8M70.4 459.8h.8M81.5 449.4h.8M72.8 447.7h.8M78.9 447.5h.8M77.1 455.1h.8M75.3 463.2h.8M73.5 463.3h.8M72.4 463.9h.8M71.5 462.4h.8M77.9 458.5h.8M72.4 444.8h.8M74.0 458.3h.8M73.2 462.5h.8M76.5 453.3h.8M72.3 463.5h.8M77.5 455.0h.8M75.7 459.1h.8M72.9 460.7h.8M71.0 465.3h.8M73.4 459.2h.8M73.3 458.2h.8M75.7 455.3h.8M73.7 463.2h.8M76.2 459.1h.8M77.7 440.1h.8M79.3 451.4h.8M75.1 448.0h.8M75.5 462.8h.8M76.4 458.2h.8M71.4 458.9h.8M75.9 443.5h.8M77.6 452.6h.8M71.8 463.3h.8M74.5 454.5h.8M72.9 464.9h.8M82.0 434.4h.8M72.8 451.1h.8M74.3 455.4h.8M71.6 462.9h.8M75.3 449.9h.8M74.2 451.3h.8M73.9 456.7h.8M73.1 458.8h.8M75.1 453.5h.8M72.2 460.0h.8M71.9 457.6h.8M78.6 454.6h.8M71.2 446.9h.8M71.7 452.8h.8M71.0 466.5h.8M73.3 457.0h.8M74.0 450.1h.8M77.1 454.2h.8M75.5 442.9h.8M74.8 453.1h.8M79.9 444.1h.8M72.9 465.1h.8M73.3 461.4h.8M74.4 458.8h.8M79.1 465.0h.8M71.8 463.0h.8M70.6 464.0h.8M76.4 452.0h.8M75.6 459.5h.8M73.9 466.9h.8M75.4 461.8h.8M71.1 457.1h.8M76.4 460.7h.8M78.0 465.1h.8M76.9 458.0h.8M74.5 466.1h.8M79.8 450.4h.8M75.5 451.0h.8M73.9 452.7h.8M75.8 453.6h.8M80.4 446.8h.8M72.1 468.6h.8M71.1 461.7h.8M77.9 469.1h.8M78.4 445.3h.8M74.3 460.4h.8M70.2 459.9h.8M72.1 454.7h.8M81.2 442.4h.8M76.8 455.0h.8M69.9 462.2h.8M76.0 460.2h.8M71.6 467.8h.8M71.6 462.1h.8M85.9 437.7h.8M106.7 425.8h.8M73.1 415.9h.8M76.4 423.5h.8M87.9 424.9h.8M77.5 417.2h.8M87.1 419.1h.8M81.5 414.9h.8M86.1 423.4h.8M75.5 427.0h.8M89.0 417.9h.8" stroke="#939393" stroke-width="0.8" fill="none"/>
<line x1="156.8" y1="386.3" x2="242.2" y2="386.3" stroke="#111" stroke-width="1.3"/>
<line x1="157.4" y1="386.3" x2="157.4" y2="472.3" stroke="#111" stroke-width="1.4"/>
<line x1="242.2" y1="386.3" x2="242.2" y2="472.8" stroke="#555" stroke-width="0.7"/>
<line x1="157.4" y1="471.2" x2="242.2" y2="471.2" stroke="#aaa" stroke-width="0.5"/>
<path d="M155.5 464.7H157.4M163.7 472.0V474.0M155.5 461.0H157.4M167.4 472.0V474.0M155.5 458.4H157.4M170.0 472.0V474.0M155.5 456.4H157.4M172.0 472.0V474.0M155.5 454.7H157.4M173.7 472.0V474.0M155.5 453.3H157.4M175.1 472.0V474.0M155.5 452.1H157.4M176.3 472.0V474.0M155.5 451.0H157.4M177.4 472.0V474.0M155.5 443.8H157.4M184.6 472.0V474.0M155.5 440.1H157.4M188.3 472.0V474.0M155.5 437.5H157.4M190.9 472.0V474.0M155.5 435.5H157.4M193.0 472.0V474.0M155.5 433.8H157.4M194.6 472.0V474.0M155.5 432.4H157.4M196.0 472.0V474.0M155.5 431.2H157.4M197.2 472.0V474.0M155.5 430.1H157.4M198.3 472.0V474.0M155.5 422.9H157.4M205.6 472.0V474.0M155.5 419.2H157.4M209.3 472.0V474.0M155.5 416.6H157.4M211.9 472.0V474.0M155.5 414.6H157.4M213.9 472.0V474.0M155.5 412.9H157.4M215.6 472.0V474.0M155.5 411.5H157.4M217.0 472.0V474.0M155.5 410.3H157.4M218.2 472.0V474.0M155.5 409.2H157.4M219.3 472.0V474.0M155.5 402.0H157.4M226.5 472.0V474.0M155.5 398.3H157.4M230.2 472.0V474.0M155.5 395.7H157.4M232.8 472.0V474.0M155.5 393.6H157.4M234.9 472.0V474.0M155.5 392.0H157.4M236.5 472.0V474.0M155.5 390.6H157.4M237.9 472.0V474.0M155.5 389.4H157.4M239.1 472.0V474.0M155.5 388.3H157.4M240.2 472.0V474.0" stroke="#111" stroke-width="0.9" fill="none"/>
<path d="M154.3 471.0H157.4M157.4 471.3V474.4M154.3 450.1H157.4M178.3 471.3V474.4M154.3 429.2H157.4M199.3 471.3V474.4M154.3 408.3H157.4M220.2 471.3V474.4M154.3 387.3H157.4M241.2 471.3V474.4" stroke="#111" stroke-width="1.1" fill="none"/>
<line x1="190.9" y1="386.3" x2="190.9" y2="471.8" stroke="#111" stroke-width="1.3"/>
<line x1="157.4" y1="433" x2="242.2" y2="433" stroke="#111" stroke-width="1.3"/>
<rect x="193.85000000000002" y="389.15000000000003" width="46.09999999999999" height="40.799999999999976" fill="none" stroke="#111" stroke-width="2.1"/>
<path d="M203.9 460.8h.8M198.3 446.2h.8M196.0 464.2h.8M205.3 466.8h.8M194.8 468.0h.8M198.5 458.4h.8M196.5 457.8h.8M208.2 439.2h.8M203.6 440.1h.8M202.1 447.9h.8M204.3 463.6h.8M207.4 447.0h.8M196.9 452.7h.8M201.5 438.7h.8M201.1 461.7h.8M196.9 461.2h.8M196.3 462.4h.8M197.3 445.1h.8M202.8 439.2h.8M196.5 458.4h.8M197.1 463.9h.8M195.6 469.6h.8M194.6 458.9h.8M206.8 459.0h.8M198.5 453.3h.8M203.8 457.6h.8M201.4 452.6h.8M194.8 459.4h.8M197.9 462.6h.8M196.7 451.4h.8M193.4 465.9h.8M203.5 452.5h.8M196.6 452.0h.8M198.9 447.1h.8M194.8 469.8h.8M193.0 462.8h.8M198.4 464.7h.8M207.7 448.1h.8M194.9 465.2h.8M204.1 453.5h.8M198.4 461.0h.8M195.0 459.6h.8M198.6 466.2h.8M194.7 465.5h.8M200.8 456.3h.8M201.1 464.5h.8M205.5 451.6h.8M201.5 463.1h.8M199.4 456.9h.8M207.1 460.1h.8M195.4 459.3h.8M199.7 437.4h.8M204.5 451.4h.8M196.5 456.8h.8M196.2 463.9h.8M200.4 459.5h.8M201.7 459.3h.8M196.0 466.9h.8M196.2 461.7h.8M208.5 435.9h.8M204.4 445.8h.8M201.2 447.3h.8M194.3 464.7h.8M203.3 444.1h.8M207.1 451.1h.8M195.4 457.8h.8M195.3 460.8h.8M197.8 458.5h.8M200.3 466.3h.8M200.2 467.0h.8M196.6 468.6h.8M199.5 452.0h.8M195.5 461.6h.8M201.3 467.2h.8M199.9 458.5h.8M200.9 468.4h.8M199.6 447.7h.8M195.4 463.0h.8M200.6 448.6h.8M196.4 462.2h.8M195.6 456.3h.8M196.4 466.6h.8M199.4 457.9h.8M196.0 460.5h.8M202.7 446.2h.8M205.5 450.0h.8M202.4 465.8h.8M204.9 440.7h.8M199.1 453.7h.8M198.0 461.8h.8M194.7 466.7h.8M205.2 453.6h.8M199.9 442.5h.8M197.8 460.1h.8M195.2 458.9h.8M195.0 458.2h.8M193.3 460.5h.8M195.1 458.2h.8M197.2 445.5h.8M199.7 462.4h.8M202.9 455.5h.8M198.5 466.3h.8M197.7 466.3h.8M198.3 465.0h.8M194.6 459.6h.8M199.1 461.6h.8M198.6 465.5h.8M205.6 437.7h.8M195.7 464.4h.8M194.9 463.2h.8M205.2 447.0h.8M195.3 461.5h.8M195.8 454.8h.8M203.6 452.3h.8M202.3 445.9h.8M195.8 447.8h.8M200.7 449.5h.8M198.3 450.8h.8M196.0 453.2h.8M201.4 451.6h.8M198.3 460.1h.8M197.4 456.4h.8M200.5 455.3h.8M196.9 458.6h.8M198.5 461.8h.8M199.0 446.6h.8M197.4 456.4h.8M196.6 454.0h.8M203.9 449.9h.8M201.2 455.3h.8M195.3 467.3h.8M196.8 458.8h.8M200.5 454.3h.8M199.2 454.7h.8M202.4 455.5h.8M198.3 455.4h.8M202.3 439.1h.8M193.1 457.0h.8M198.3 455.1h.8M197.4 467.1h.8M196.2 461.0h.8M196.6 456.3h.8M202.1 463.3h.8M194.0 466.7h.8M201.5 451.1h.8M198.6 455.9h.8M198.7 458.5h.8M198.1 456.9h.8M199.4 453.8h.8M200.1 460.3h.8M194.8 463.1h.8M195.2 462.7h.8M201.0 458.3h.8M202.9 463.3h.8M198.2 462.6h.8M196.1 466.5h.8M193.8 466.1h.8M194.8 463.7h.8M195.7 464.1h.8M199.9 465.0h.8M202.4 462.0h.8M197.8 457.0h.8M198.7 454.1h.8M196.9 460.9h.8M199.4 451.2h.8M199.8 463.5h.8M198.3 454.9h.8M200.3 458.9h.8M201.2 458.1h.8M196.4 465.1h.8M206.6 458.5h.8M196.7 456.0h.8M202.4 450.2h.8M198.5 453.8h.8M204.6 447.1h.8M194.8 467.6h.8M201.5 455.0h.8M195.1 463.1h.8M194.3 468.3h.8M193.7 463.3h.8M203.6 461.9h.8M196.0 460.2h.8M196.6 452.1h.8M198.0 442.5h.8M197.5 446.3h.8M199.2 455.5h.8M197.2 467.2h.8M202.7 453.6h.8M198.8 448.9h.8M194.6 457.1h.8M197.1 459.5h.8M197.6 463.1h.8M194.4 466.4h.8M197.0 452.9h.8M196.1 463.8h.8M195.4 466.5h.8M197.6 458.5h.8M198.5 443.5h.8M196.4 463.1h.8M205.5 463.1h.8M194.4 461.3h.8M200.6 449.0h.8M201.4 462.3h.8M198.5 461.8h.8M204.4 458.4h.8M200.4 458.0h.8M199.1 452.8h.8M201.4 441.0h.8M199.2 460.9h.8M201.1 457.6h.8M196.6 462.9h.8M199.6 450.8h.8M197.1 468.0h.8M196.7 454.4h.8M194.4 451.5h.8M205.4 461.5h.8M196.7 463.3h.8M202.0 446.0h.8M195.9 460.7h.8M195.1 455.5h.8M201.6 457.9h.8M201.3 444.7h.8M196.1 465.0h.8M198.0 455.4h.8M199.3 465.6h.8M202.5 468.8h.8M199.0 453.4h.8M194.7 461.2h.8M200.7 460.3h.8M194.2 456.1h.8M196.1 467.0h.8M199.6 464.0h.8M194.4 465.1h.8M199.2 452.2h.8M197.0 460.9h.8M198.3 464.7h.8M205.1 445.7h.8M197.7 458.4h.8M196.7 438.6h.8M195.8 465.2h.8M196.2 462.6h.8M198.9 459.8h.8M194.3 468.2h.8M201.2 449.2h.8M205.6 466.6h.8M203.1 443.1h.8M193.9 462.9h.8M195.7 461.5h.8M197.8 441.3h.8M195.0 461.0h.8M206.5 436.1h.8M195.4 461.7h.8M195.7 461.7h.8M195.9 459.3h.8M195.8 457.7h.8M196.3 462.9h.8M199.5 457.3h.8M195.7 444.2h.8M201.6 457.6h.8M197.6 456.5h.8M201.0 456.6h.8M202.1 443.7h.8M198.5 459.6h.8M202.3 437.5h.8M198.0 458.4h.8M201.4 451.7h.8M199.5 449.0h.8M201.6 440.4h.8M203.0 444.8h.8M201.6 446.7h.8M202.3 444.7h.8M195.3 462.1h.8M202.8 463.7h.8M204.2 442.7h.8M198.7 457.0h.8M194.3 461.9h.8M196.0 443.8h.8M198.5 458.0h.8M193.1 467.8h.8M196.8 463.8h.8M204.0 459.5h.8M199.6 456.1h.8M194.4 459.4h.8M195.2 466.6h.8M202.0 455.9h.8M199.1 458.0h.8M199.6 459.8h.8M195.4 460.8h.8M201.0 454.7h.8M196.5 463.8h.8M197.6 445.1h.8M203.6 465.6h.8M199.0 457.3h.8M195.7 435.4h.8M197.4 462.3h.8M204.9 444.9h.8M203.7 437.4h.8M201.3 459.7h.8M199.3 458.9h.8M198.2 467.6h.8M194.4 462.7h.8M201.1 439.5h.8M201.5 465.4h.8M201.8 469.0h.8M201.4 464.5h.8M199.4 446.5h.8M194.8 442.5h.8M201.5 448.7h.8M193.5 466.6h.8M199.2 454.4h.8M196.8 461.0h.8M202.4 461.2h.8M198.3 457.7h.8M199.2 443.7h.8M195.2 458.7h.8M193.6 466.1h.8M203.6 448.2h.8M199.3 461.0h.8M195.9 459.7h.8M201.8 447.1h.8M198.7 466.9h.8M198.1 460.1h.8M201.8 453.9h.8M203.6 445.5h.8M199.5 458.3h.8M196.2 457.3h.8M200.3 463.5h.8M194.8 460.6h.8M200.9 453.9h.8M201.2 457.3h.8M195.2 467.0h.8M195.9 456.5h.8M194.8 463.1h.8M201.8 456.4h.8M198.2 452.6h.8M196.6 457.2h.8M200.7 470.0h.8M197.1 459.9h.8M195.6 467.5h.8M196.3 461.7h.8M198.5 465.0h.8M194.6 460.5h.8M211.3 435.3h.8M201.7 453.8h.8M202.6 459.8h.8M197.8 467.8h.8M198.3 461.6h.8M198.8 451.4h.8M193.7 458.2h.8M193.1 462.5h.8M195.2 445.2h.8M195.7 454.5h.8M198.5 454.3h.8M196.1 468.7h.8M200.8 467.5h.8M200.1 454.9h.8M199.2 454.0h.8M197.8 455.0h.8M198.7 438.5h.8M202.0 466.2h.8M196.8 459.1h.8M197.1 452.2h.8M200.9 463.6h.8M193.1 460.5h.8M197.9 464.8h.8M197.0 456.1h.8M207.9 438.7h.8M200.9 442.2h.8M201.1 462.1h.8M196.7 467.8h.8M195.1 457.7h.8M199.1 462.7h.8M198.6 455.8h.8M195.9 455.2h.8M199.5 453.0h.8M197.7 461.6h.8M197.7 453.3h.8M197.9 460.7h.8M202.6 465.1h.8M201.4 455.4h.8M200.2 468.0h.8M204.1 450.8h.8M202.4 468.4h.8M195.3 459.4h.8M199.8 467.0h.8M206.1 456.2h.8M199.7 445.8h.8M197.4 460.2h.8M195.8 454.7h.8M199.9 449.8h.8M202.1 458.8h.8M201.5 454.4h.8M196.3 460.8h.8M206.2 447.9h.8M202.9 461.3h.8M197.8 451.7h.8M196.9 464.3h.8M197.3 442.2h.8M200.7 463.7h.8M196.8 469.1h.8M206.3 445.1h.8M196.1 463.8h.8M194.7 468.0h.8M206.0 439.5h.8M199.7 443.5h.8M204.0 460.7h.8M196.4 464.1h.8M196.2 462.6h.8M199.4 449.1h.8M197.1 461.6h.8M197.1 455.2h.8M202.6 466.3h.8M199.6 460.8h.8M194.5 458.9h.8M204.2 450.5h.8M202.8 460.2h.8M202.8 444.3h.8M195.9 458.6h.8M197.3 462.0h.8M208.1 436.7h.8M199.5 444.9h.8M199.8 437.5h.8M212.1 444.8h.8M204.1 440.0h.8M198.1 452.3h.8M197.3 457.0h.8M195.8 456.4h.8M194.0 462.4h.8M198.4 466.5h.8M197.5 454.8h.8M200.7 460.5h.8M196.1 459.4h.8M196.2 459.8h.8M194.3 463.7h.8M199.7 468.0h.8M203.7 455.1h.8M194.7 459.5h.8M203.3 464.9h.8M194.2 462.5h.8M204.2 462.6h.8M195.5 457.7h.8M195.6 460.9h.8M205.0 451.7h.8M197.1 450.7h.8M206.7 437.6h.8M196.0 451.1h.8M201.4 457.7h.8M201.0 456.1h.8M208.3 436.4h.8M196.0 455.3h.8M195.3 458.9h.8M202.4 448.7h.8M199.9 452.7h.8M200.1 461.1h.8M206.1 456.4h.8M204.0 445.5h.8M201.5 469.1h.8M195.6 465.8h.8M197.1 463.2h.8M196.4 460.3h.8M196.0 458.0h.8M197.1 468.1h.8M198.2 464.0h.8M204.0 451.8h.8M199.4 437.0h.8M205.8 445.1h.8M199.1 455.7h.8M197.4 456.3h.8M202.2 444.0h.8M196.1 469.1h.8M201.7 456.9h.8M208.6 443.6h.8M200.5 443.4h.8M201.9 458.4h.8M197.8 461.0h.8M202.6 459.4h.8M200.4 461.9h.8M203.1 444.6h.8M197.4 458.1h.8M198.3 459.6h.8M200.6 458.5h.8M199.8 441.5h.8M197.0 456.5h.8M196.3 448.4h.8M198.4 459.8h.8M203.6 440.7h.8M201.1 451.4h.8M196.8 457.3h.8M196.6 457.1h.8M196.0 465.2h.8M197.3 450.0h.8M200.0 454.2h.8M198.8 454.0h.8M197.0 459.8h.8M196.0 463.8h.8M197.7 464.5h.8M199.3 445.7h.8M196.0 445.5h.8M198.1 455.4h.8M198.4 459.6h.8M194.5 464.2h.8M205.3 446.5h.8M201.7 449.6h.8M194.7 460.5h.8M199.5 464.6h.8M195.4 451.5h.8M199.6 455.9h.8M197.3 469.4h.8M197.4 449.3h.8M203.8 459.5h.8M199.3 457.7h.8M195.6 459.4h.8M199.6 468.7h.8M197.9 457.7h.8M201.3 449.0h.8M196.2 459.4h.8M194.8 460.0h.8M194.8 466.7h.8M199.3 455.4h.8M198.3 455.7h.8M193.9 465.4h.8M200.6 464.1h.8M201.7 456.0h.8M197.1 452.4h.8M201.9 444.1h.8M195.5 459.4h.8M203.7 449.3h.8M202.9 462.2h.8M196.7 460.6h.8M200.2 465.7h.8M196.3 458.8h.8M193.3 463.8h.8M201.0 455.9h.8M197.7 467.2h.8M197.7 453.9h.8M204.5 446.8h.8M197.6 468.4h.8M196.5 466.8h.8M201.8 450.7h.8M207.0 448.4h.8M204.5 464.8h.8M197.2 454.4h.8M202.1 466.8h.8M200.1 453.3h.8M198.4 449.9h.8M202.2 456.2h.8M194.8 468.8h.8M193.1 465.0h.8M198.2 449.3h.8M194.9 450.4h.8M200.2 459.4h.8M195.8 465.8h.8M197.6 453.2h.8M193.6 466.3h.8M204.5 456.5h.8M195.0 454.7h.8M197.5 459.1h.8M202.8 461.6h.8M193.5 461.8h.8M199.7 455.2h.8M196.6 459.8h.8M201.8 462.9h.8M198.1 452.6h.8M198.2 464.8h.8M197.8 469.5h.8M200.4 449.7h.8M201.7 458.1h.8M206.2 442.3h.8M193.9 460.0h.8M195.1 462.5h.8M195.5 465.8h.8M199.9 465.0h.8M193.9 467.7h.8M197.8 462.1h.8M197.2 453.3h.8M199.9 454.5h.8M207.4 443.2h.8M199.4 448.5h.8M195.3 465.0h.8M200.6 460.6h.8M198.1 463.2h.8M197.7 461.7h.8M199.7 449.6h.8M200.1 458.6h.8M198.4 463.6h.8M197.9 452.6h.8M210.0 449.6h.8M200.4 446.2h.8M194.5 459.0h.8M199.7 447.3h.8M195.5 448.1h.8M203.1 460.0h.8M197.6 464.5h.8M194.5 460.6h.8M198.7 452.4h.8M199.0 466.5h.8M200.5 449.4h.8M201.5 446.2h.8M197.0 462.3h.8M206.3 466.8h.8M196.8 452.7h.8M200.8 456.3h.8M196.9 461.4h.8M199.7 464.1h.8M197.1 465.9h.8M197.0 457.3h.8M196.0 454.0h.8M204.0 456.9h.8M199.5 454.6h.8M202.5 468.0h.8M194.4 466.9h.8M197.2 455.6h.8M197.5 454.6h.8M196.3 463.6h.8M197.2 448.7h.8M199.1 454.2h.8M196.8 459.9h.8M198.6 466.6h.8M203.4 459.4h.8M199.5 457.8h.8M202.3 458.2h.8M199.9 451.2h.8M198.8 461.3h.8M200.5 463.8h.8M196.2 465.1h.8M194.8 463.2h.8M195.6 461.8h.8M205.5 457.8h.8M200.3 457.3h.8M201.0 462.0h.8M196.1 462.8h.8M195.5 452.8h.8M197.8 448.5h.8M195.6 462.7h.8M196.2 462.7h.8M203.4 444.5h.8M200.6 456.9h.8M195.8 441.3h.8M195.7 461.6h.8M195.6 464.8h.8M199.2 466.0h.8M200.9 462.5h.8M197.9 465.4h.8M197.4 468.0h.8M204.4 445.9h.8M197.0 464.8h.8M205.9 438.0h.8M201.9 450.9h.8M199.0 444.5h.8M202.9 455.0h.8M195.3 465.0h.8M198.6 454.7h.8M195.6 468.7h.8M195.7 469.0h.8M199.3 465.3h.8M195.1 467.3h.8M203.0 456.5h.8M194.8 463.4h.8M196.9 456.5h.8M201.8 468.6h.8M199.8 462.2h.8M199.8 447.5h.8M198.2 439.9h.8M201.6 456.2h.8M198.5 463.1h.8M199.1 459.5h.8M194.1 445.1h.8M195.6 461.3h.8M193.3 463.5h.8M198.9 455.8h.8M201.2 468.6h.8M195.3 456.4h.8M196.2 454.5h.8M201.5 449.5h.8M199.3 451.7h.8M203.0 465.4h.8M195.7 449.9h.8M200.6 446.6h.8M209.4 453.5h.8M202.5 468.7h.8M203.0 452.8h.8M198.1 449.0h.8M198.2 459.0h.8M193.6 455.1h.8M197.8 458.7h.8M204.6 441.4h.8M195.3 463.7h.8M200.0 440.9h.8M198.3 453.0h.8M201.6 463.7h.8M196.0 455.7h.8M198.8 454.3h.8M198.9 461.6h.8M198.6 464.0h.8M200.1 456.8h.8M197.6 443.9h.8M200.5 459.1h.8M198.1 442.2h.8M194.2 467.2h.8M197.5 466.2h.8M197.9 464.4h.8M196.4 451.2h.8M202.4 457.3h.8M201.5 435.0h.8M196.6 465.9h.8M201.2 449.6h.8M201.5 452.1h.8M199.5 464.3h.8M194.3 464.7h.8M196.5 461.2h.8M201.3 444.0h.8M203.7 458.2h.8M201.0 458.4h.8M197.5 462.3h.8M196.8 465.4h.8M199.8 456.9h.8M206.9 452.3h.8M195.7 460.4h.8M201.3 458.8h.8M202.8 446.0h.8M199.1 421.0h.8M199.8 422.5h.8M204.9 423.3h.8M200.0 424.4h.8M198.3 423.2h.8M205.5 422.4h.8M204.7 425.9h.8M213.9 417.4h.8M197.9 414.0h.8M201.4 424.9h.8M212.9 420.2h.8M212.0 415.0h.8M201.6 414.5h.8M210.3 424.0h.8M203.4 426.8h.8M203.6 423.0h.8M202.8 421.0h.8M204.2 420.2h.8M205.4 418.9h.8M228.1 425.4h.8M205.9 416.6h.8M206.5 426.2h.8M205.6 421.1h.8M207.9 426.0h.8M200.9 416.5h.8M197.5 424.6h.8M200.2 419.0h.8M218.2 420.5h.8M204.7 427.3h.8M205.1 420.6h.8" stroke="#939393" stroke-width="0.8" fill="none"/>
<line x1="281.79999999999995" y1="386.3" x2="366.2" y2="386.3" stroke="#111" stroke-width="1.3"/>
<line x1="282.4" y1="386.3" x2="282.4" y2="472.0" stroke="#111" stroke-width="1.4"/>
<line x1="366.2" y1="386.3" x2="366.2" y2="472.5" stroke="#555" stroke-width="0.7"/>
<line x1="282.4" y1="470.9" x2="366.2" y2="470.9" stroke="#aaa" stroke-width="0.5"/>
<path d="M280.5 464.4H282.4M288.6 471.7V473.7M280.5 460.8H282.4M292.3 471.7V473.7M280.5 458.2H282.4M294.9 471.7V473.7M280.5 456.1H282.4M296.9 471.7V473.7M280.5 454.5H282.4M298.5 471.7V473.7M280.5 453.1H282.4M299.9 471.7V473.7M280.5 451.9H282.4M301.1 471.7V473.7M280.5 450.8H282.4M302.1 471.7V473.7M280.5 443.6H282.4M309.3 471.7V473.7M280.5 439.9H282.4M313.0 471.7V473.7M280.5 437.3H282.4M315.5 471.7V473.7M280.5 435.3H282.4M317.6 471.7V473.7M280.5 433.6H282.4M319.2 471.7V473.7M280.5 432.2H282.4M320.6 471.7V473.7M280.5 431.0H282.4M321.8 471.7V473.7M280.5 430.0H282.4M322.8 471.7V473.7M280.5 422.7H282.4M330.0 471.7V473.7M280.5 419.1H282.4M333.7 471.7V473.7M280.5 416.5H282.4M336.2 471.7V473.7M280.5 414.5H282.4M338.2 471.7V473.7M280.5 412.8H282.4M339.9 471.7V473.7M280.5 411.4H282.4M341.3 471.7V473.7M280.5 410.2H282.4M342.5 471.7V473.7M280.5 409.1H282.4M343.5 471.7V473.7M280.5 401.9H282.4M350.7 471.7V473.7M280.5 398.2H282.4M354.3 471.7V473.7M280.5 395.6H282.4M356.9 471.7V473.7M280.5 393.6H282.4M358.9 471.7V473.7M280.5 392.0H282.4M360.6 471.7V473.7M280.5 390.6H282.4M362.0 471.7V473.7M280.5 389.4H282.4M363.2 471.7V473.7M280.5 388.3H282.4M364.2 471.7V473.7" stroke="#111" stroke-width="0.9" fill="none"/>
<path d="M279.3 470.7H282.4M282.4 471.0V474.1M279.3 449.9H282.4M303.1 471.0V474.1M279.3 429.0H282.4M323.8 471.0V474.1M279.3 408.2H282.4M344.5 471.0V474.1M279.3 387.3H282.4M365.2 471.0V474.1" stroke="#111" stroke-width="1.1" fill="none"/>
<line x1="315.3" y1="386.3" x2="315.3" y2="471.5" stroke="#111" stroke-width="1.3"/>
<line x1="282.4" y1="432.5" x2="366.2" y2="432.5" stroke="#111" stroke-width="1.3"/>
<rect x="317.15" y="389.35" width="46.200000000000045" height="39.89999999999998" fill="none" stroke="#111" stroke-width="2.5"/>
<path d="M321.9 449.2h.8M320.1 467.8h.8M324.6 467.0h.8M327.0 451.0h.8M319.9 462.3h.8M327.9 460.6h.8M325.7 434.7h.8M326.1 458.2h.8M323.5 465.3h.8M323.4 458.2h.8M331.9 435.1h.8M329.8 441.1h.8M320.7 457.5h.8M329.3 459.1h.8M320.2 461.4h.8M323.2 460.7h.8M331.2 437.6h.8M322.7 460.3h.8M319.2 459.9h.8M327.9 459.9h.8M326.7 451.8h.8M323.9 468.2h.8M324.0 467.9h.8M319.5 465.1h.8M324.1 456.9h.8M317.0 463.3h.8M320.1 452.9h.8M321.3 456.1h.8M318.7 462.7h.8M322.3 444.3h.8M318.5 462.2h.8M326.9 457.9h.8M321.9 459.4h.8M324.5 445.5h.8M322.3 449.4h.8M323.0 444.2h.8M323.8 462.4h.8M330.7 457.6h.8M322.4 460.9h.8M321.6 467.6h.8M322.5 463.9h.8M330.1 435.1h.8M324.8 466.6h.8M324.4 464.4h.8M322.2 437.8h.8M324.4 452.9h.8M327.8 458.3h.8M318.5 465.3h.8M323.8 462.9h.8M319.7 459.3h.8M322.7 459.9h.8M322.7 454.3h.8M323.4 455.5h.8M322.1 453.4h.8M322.9 449.5h.8M321.3 453.5h.8M323.8 462.9h.8M332.7 442.4h.8M321.1 449.8h.8M328.1 449.8h.8M323.0 458.2h.8M319.0 463.3h.8M326.1 461.3h.8M324.8 435.9h.8M322.7 453.0h.8M319.2 464.9h.8M319.1 457.8h.8M321.9 459.9h.8M325.4 459.6h.8M326.1 448.1h.8M326.1 467.4h.8M326.7 436.4h.8M319.5 456.6h.8M325.2 447.2h.8M327.0 454.5h.8M323.1 467.0h.8M324.8 442.6h.8M325.1 456.2h.8M326.7 465.3h.8M322.4 465.0h.8M326.8 437.3h.8M321.6 456.1h.8M325.2 439.8h.8M321.1 465.4h.8M323.6 458.1h.8M321.7 463.7h.8M319.8 464.4h.8M327.5 444.7h.8M324.3 442.9h.8M322.8 454.2h.8M320.5 466.6h.8M323.2 450.1h.8M330.9 443.0h.8M322.9 457.0h.8M320.9 456.9h.8M323.1 442.9h.8M321.3 456.3h.8M321.2 444.3h.8M325.6 459.0h.8M318.3 459.3h.8M320.9 457.5h.8M318.3 449.2h.8M323.2 465.7h.8M328.1 459.9h.8M325.7 458.4h.8M328.1 440.3h.8M326.7 467.0h.8M321.3 467.8h.8M325.4 452.5h.8M325.8 451.3h.8M319.1 459.1h.8M325.4 449.5h.8M327.0 458.4h.8M328.1 454.2h.8M318.0 466.5h.8M325.5 467.4h.8M321.6 453.2h.8M325.5 454.9h.8M319.4 463.4h.8M320.9 456.9h.8M319.1 464.8h.8M318.4 467.3h.8M318.4 463.6h.8M320.2 465.3h.8M320.6 461.0h.8M322.4 440.4h.8M320.3 455.5h.8M325.6 455.0h.8M319.2 468.9h.8M327.7 439.7h.8M326.0 440.6h.8M331.2 447.4h.8M323.4 457.0h.8M326.7 444.8h.8M321.9 462.8h.8M320.9 464.6h.8M321.4 456.0h.8M324.2 464.0h.8M328.7 438.1h.8M328.9 459.1h.8M323.9 463.5h.8M320.2 465.2h.8M323.2 453.7h.8M321.7 465.8h.8M325.5 454.1h.8M326.6 457.7h.8M322.3 439.4h.8M327.0 448.7h.8M324.7 454.0h.8M326.3 452.7h.8M318.1 461.8h.8M326.0 459.0h.8M322.1 455.6h.8M320.8 459.8h.8M334.5 435.6h.8M332.4 448.0h.8M322.1 450.6h.8M319.7 462.4h.8M323.3 463.4h.8M323.2 460.5h.8M321.1 462.7h.8M327.9 442.8h.8M319.8 461.6h.8M323.6 465.1h.8M327.5 452.3h.8M320.8 466.6h.8M322.1 464.6h.8M320.7 461.8h.8M321.1 458.0h.8M323.4 462.2h.8M320.6 455.9h.8M327.1 467.2h.8M326.1 462.7h.8M328.9 438.9h.8M320.1 465.2h.8M322.3 463.4h.8M329.3 458.0h.8M330.2 450.3h.8M324.4 463.9h.8M323.8 436.4h.8M329.5 463.7h.8M320.6 461.1h.8M326.0 434.4h.8M318.2 457.1h.8M318.8 457.9h.8M323.8 453.5h.8M319.2 466.1h.8M318.8 463.3h.8M322.5 461.3h.8M320.1 465.6h.8M326.5 438.9h.8M319.9 459.9h.8M318.9 462.4h.8M323.3 460.1h.8M322.3 454.3h.8M318.2 463.1h.8M323.4 461.1h.8M322.3 456.6h.8M327.5 436.8h.8M320.3 463.4h.8M320.1 464.0h.8M323.3 454.0h.8M321.0 465.5h.8M322.5 457.9h.8M329.8 457.7h.8M319.1 458.8h.8M322.9 458.6h.8M329.2 461.5h.8M319.6 461.6h.8M327.6 454.4h.8M325.3 450.5h.8M320.1 454.4h.8M324.8 452.2h.8M319.7 456.2h.8M320.7 456.8h.8M327.5 460.4h.8M324.4 457.4h.8M327.2 464.6h.8M318.4 464.8h.8M319.5 460.2h.8M324.8 459.6h.8M324.0 464.8h.8M318.4 467.2h.8M327.3 451.7h.8M320.3 463.5h.8M329.0 461.4h.8M321.4 451.4h.8M325.1 466.8h.8M320.4 462.2h.8M323.0 435.4h.8M322.3 463.7h.8M328.8 444.1h.8M319.8 464.3h.8M327.9 451.8h.8M319.7 463.1h.8M318.7 461.9h.8M322.3 444.6h.8M325.6 446.2h.8M323.2 454.7h.8M323.6 463.8h.8M329.9 442.8h.8M321.9 467.3h.8M320.4 461.8h.8M327.5 460.5h.8M319.6 457.3h.8M332.8 439.1h.8M325.1 450.3h.8M319.5 453.9h.8M322.2 452.6h.8M321.7 447.6h.8M322.6 460.0h.8M320.9 453.9h.8M326.8 454.8h.8M322.3 457.6h.8M322.4 462.3h.8M322.6 461.7h.8M326.0 447.7h.8M319.3 454.4h.8M319.5 460.3h.8M330.2 446.9h.8M326.6 455.9h.8M318.3 463.7h.8M324.4 448.6h.8M319.4 462.8h.8M321.5 458.0h.8M319.7 458.3h.8M320.2 458.6h.8M321.1 467.7h.8M323.9 465.4h.8M321.7 448.8h.8M321.4 454.1h.8M325.8 461.5h.8M322.4 460.1h.8M317.0 465.2h.8M322.5 462.1h.8M318.9 451.5h.8M321.9 448.9h.8M321.3 453.8h.8M323.2 438.4h.8M326.7 464.2h.8M320.6 457.9h.8M321.6 450.0h.8M319.9 463.8h.8M322.1 453.2h.8M328.5 467.1h.8M323.6 460.4h.8M322.9 464.4h.8M320.6 452.3h.8M322.9 434.0h.8M321.7 462.9h.8M318.2 461.5h.8M322.3 455.7h.8M321.0 442.7h.8M319.5 456.8h.8M319.7 460.9h.8M322.2 467.6h.8M329.3 434.6h.8M326.7 455.5h.8M321.8 460.7h.8M322.0 459.0h.8M328.9 464.1h.8M319.9 463.0h.8M322.7 464.4h.8M322.3 450.8h.8M330.2 440.3h.8M320.5 464.8h.8M328.8 452.2h.8M328.7 458.1h.8M322.1 436.2h.8M322.7 458.0h.8M318.6 462.9h.8M319.3 462.5h.8M322.3 464.7h.8M320.6 452.6h.8M326.6 444.2h.8M320.4 456.9h.8M323.3 463.1h.8M321.0 460.8h.8M324.7 447.6h.8M324.7 441.5h.8M320.7 463.0h.8M328.0 455.5h.8M322.3 448.8h.8M325.0 465.1h.8M319.5 446.7h.8M324.3 452.8h.8M328.6 447.6h.8M325.9 448.0h.8M320.4 459.3h.8M324.8 465.5h.8M320.5 453.2h.8M323.9 459.8h.8M322.9 460.4h.8M324.0 454.2h.8M323.9 464.8h.8M321.1 458.4h.8M324.2 461.0h.8M322.3 462.3h.8M323.4 464.5h.8M322.3 448.4h.8M325.7 461.7h.8M324.6 458.9h.8M323.6 460.1h.8M318.5 469.6h.8M322.0 461.5h.8M320.3 459.4h.8M320.9 439.0h.8M325.9 455.3h.8M326.0 455.4h.8M318.2 458.8h.8M322.9 451.7h.8M318.3 464.7h.8M330.6 439.5h.8M324.1 452.3h.8M321.3 449.8h.8M322.2 453.9h.8M329.5 458.2h.8M330.6 441.8h.8M321.2 463.1h.8M327.7 456.7h.8M322.6 456.0h.8M323.6 463.8h.8M321.3 456.3h.8M324.2 446.3h.8M325.6 458.0h.8M332.6 452.2h.8M326.7 461.9h.8M320.1 463.8h.8M323.0 453.1h.8M324.7 442.3h.8M318.8 465.4h.8M329.9 454.6h.8M330.9 446.3h.8M322.3 465.0h.8M325.7 451.3h.8M325.1 458.5h.8M317.6 468.8h.8M320.5 461.2h.8M329.3 460.8h.8M320.0 461.0h.8M320.9 442.6h.8M325.6 445.9h.8M322.3 461.0h.8M324.8 451.8h.8M317.8 463.3h.8M329.5 444.1h.8M321.3 464.6h.8M322.1 465.1h.8M322.6 458.3h.8M328.0 447.7h.8M319.3 463.7h.8M327.3 447.5h.8M328.9 444.0h.8M325.3 439.4h.8M328.4 457.2h.8M322.7 462.4h.8M325.8 447.3h.8M322.1 451.2h.8M323.9 461.0h.8M321.2 455.5h.8M325.9 462.5h.8M320.4 458.4h.8M326.1 439.5h.8M322.4 451.5h.8M323.3 464.7h.8M326.0 460.3h.8M327.7 445.0h.8M331.5 451.2h.8M322.9 460.2h.8M319.3 461.6h.8M326.2 446.7h.8M322.9 461.7h.8M324.2 462.3h.8M320.0 466.7h.8M324.5 448.5h.8M327.4 449.2h.8M322.7 457.9h.8M325.0 464.7h.8M323.3 467.4h.8M320.2 467.7h.8M327.0 439.4h.8M322.1 450.6h.8M320.6 459.4h.8M332.1 449.8h.8M320.5 459.8h.8M321.5 457.5h.8M321.2 464.4h.8M324.5 454.1h.8M322.4 459.4h.8M324.0 438.4h.8M320.9 448.5h.8M322.8 454.2h.8M324.4 463.8h.8M325.3 450.3h.8M320.6 457.9h.8M321.3 460.0h.8M331.2 442.6h.8M323.3 458.5h.8M321.9 439.5h.8M322.0 453.4h.8M321.8 458.4h.8M321.8 449.9h.8M318.7 463.2h.8M323.6 445.8h.8M323.7 457.7h.8M322.2 462.8h.8M320.7 455.1h.8M319.0 438.6h.8M322.1 460.8h.8M331.1 459.7h.8M321.4 468.7h.8M321.9 448.4h.8M319.8 464.8h.8M325.3 464.1h.8M321.2 461.8h.8M320.8 448.2h.8M320.2 462.0h.8M323.5 461.4h.8M323.1 453.1h.8M324.7 444.4h.8M323.3 461.6h.8M321.1 458.5h.8M320.7 451.6h.8M322.0 453.5h.8M321.8 459.2h.8M334.1 437.0h.8M326.9 447.7h.8M324.3 458.2h.8M324.3 460.7h.8M324.0 458.0h.8M324.3 460.2h.8M326.0 459.2h.8M318.7 464.6h.8M327.9 453.1h.8M321.5 458.3h.8M322.5 447.6h.8M323.0 458.3h.8M328.8 435.7h.8M321.5 463.0h.8M321.3 455.7h.8M323.8 454.2h.8M323.8 460.0h.8M319.9 457.1h.8M327.5 464.3h.8M318.8 468.7h.8M320.6 463.7h.8M325.8 468.0h.8M332.0 451.4h.8M327.7 466.1h.8M319.4 456.9h.8M320.4 464.7h.8M327.7 450.7h.8M326.5 445.8h.8M324.9 439.1h.8M326.1 456.5h.8M324.9 452.5h.8M329.7 453.2h.8M323.4 452.5h.8M320.2 446.8h.8M323.5 444.9h.8M328.5 444.9h.8M322.6 460.7h.8M324.0 469.4h.8M321.5 464.3h.8M321.5 453.9h.8M325.6 448.2h.8M323.2 454.6h.8M321.8 467.2h.8M325.4 450.3h.8M330.5 452.2h.8M318.8 463.0h.8M326.9 444.7h.8M326.4 444.6h.8M323.7 455.5h.8M325.5 452.7h.8M322.3 466.0h.8M322.4 462.5h.8M319.0 467.3h.8M328.9 448.3h.8M324.1 447.7h.8M324.9 460.3h.8M322.1 461.2h.8M323.0 447.5h.8M322.5 458.5h.8M319.8 458.3h.8M321.0 462.6h.8M323.2 461.3h.8M321.1 462.7h.8M321.2 464.5h.8M332.9 449.3h.8M320.9 463.5h.8M318.0 461.7h.8M322.3 455.1h.8M322.3 449.4h.8M324.2 469.0h.8M321.3 461.5h.8M323.5 458.0h.8M323.9 443.3h.8M323.4 445.0h.8M327.8 460.0h.8M321.2 464.2h.8M326.7 457.9h.8M323.0 461.6h.8M318.8 457.7h.8M324.7 449.0h.8M323.6 460.3h.8M321.8 460.9h.8M320.9 460.4h.8M326.4 455.3h.8M319.0 459.5h.8M329.0 456.4h.8M324.1 456.9h.8M321.8 458.7h.8M324.5 451.8h.8M327.4 451.6h.8M320.5 458.9h.8M321.2 450.2h.8M319.8 436.9h.8M330.6 459.4h.8M327.8 452.9h.8M320.7 454.8h.8M323.6 449.1h.8M323.5 457.4h.8M318.7 461.7h.8M328.2 443.8h.8M321.8 467.5h.8M318.4 455.2h.8M326.1 455.9h.8M319.8 464.1h.8M325.3 457.6h.8M319.8 454.8h.8M320.8 448.8h.8M323.5 454.8h.8M324.0 454.0h.8M319.6 452.6h.8M320.1 465.2h.8M323.1 450.7h.8M324.1 459.1h.8M326.2 452.6h.8M327.1 464.2h.8M319.3 462.9h.8M323.3 459.6h.8M320.3 457.2h.8M324.1 461.6h.8M320.4 456.6h.8M325.3 452.3h.8M324.0 458.2h.8M322.9 458.5h.8M320.7 461.6h.8M319.1 453.6h.8M323.8 454.6h.8M322.6 442.0h.8M318.7 464.7h.8M321.1 449.5h.8M319.5 457.8h.8M318.6 464.0h.8M326.4 446.2h.8M323.0 442.8h.8M329.2 439.1h.8M320.6 460.2h.8M323.3 453.9h.8M326.7 445.7h.8M326.4 454.2h.8M320.1 454.1h.8M323.0 469.0h.8M321.6 436.7h.8M321.1 454.2h.8M321.8 447.6h.8M318.3 466.9h.8M324.7 447.7h.8M319.7 458.4h.8M327.8 460.0h.8M328.9 464.1h.8M324.8 444.4h.8M324.0 461.0h.8M327.1 445.4h.8M320.7 454.4h.8M324.5 466.7h.8M324.8 458.6h.8M328.1 452.1h.8M323.4 457.4h.8M320.9 463.1h.8M326.4 460.3h.8M323.1 463.3h.8M319.8 458.0h.8M325.0 464.4h.8M329.1 460.4h.8M318.4 464.3h.8M326.7 455.8h.8M324.0 451.4h.8M317.6 451.0h.8M329.8 465.1h.8M327.6 459.3h.8M325.6 459.6h.8M320.2 461.3h.8M326.7 457.0h.8M327.7 443.8h.8M324.3 459.3h.8M326.8 450.4h.8M320.6 461.6h.8M334.5 412.0h.8M332.4 422.6h.8M329.0 414.5h.8M324.7 415.8h.8M327.4 403.0h.8M347.5 413.2h.8M323.9 397.7h.8M327.9 414.6h.8M327.2 415.1h.8M328.5 420.8h.8M323.6 424.9h.8M325.5 424.3h.8M340.2 425.3h.8M329.2 393.7h.8M325.8 407.4h.8M322.3 402.3h.8M325.3 418.3h.8M332.0 398.8h.8M326.4 423.9h.8M327.2 393.2h.8M332.1 418.9h.8M322.3 403.5h.8M326.7 425.4h.8M325.6 411.7h.8M333.0 395.0h.8M327.1 410.5h.8M333.5 425.3h.8M333.9 416.8h.8M329.9 401.0h.8M324.8 414.3h.8M327.4 418.6h.8M323.2 401.3h.8M331.1 408.8h.8M331.5 403.7h.8M327.8 421.4h.8M327.1 411.5h.8M322.2 423.7h.8M330.5 412.1h.8M330.4 417.7h.8M324.6 421.4h.8M327.1 426.3h.8M322.2 403.6h.8M332.5 425.6h.8M326.9 408.3h.8M324.4 399.5h.8M329.9 419.7h.8M336.6 418.2h.8M324.9 397.3h.8M333.1 409.2h.8M326.3 409.0h.8M321.0 425.2h.8M330.9 425.5h.8M327.3 423.1h.8M335.5 411.6h.8M323.3 426.1h.8M324.7 408.5h.8M322.5 409.9h.8M327.8 414.9h.8M325.2 400.9h.8M328.2 398.7h.8" stroke="#939393" stroke-width="0.8" fill="none"/>
<line x1="11.2" y1="519.9" x2="11.2" y2="487.5" stroke="#111" stroke-width="1.3"/>
<line x1="11.2" y1="519.3" x2="43.1" y2="519.3" stroke="#111" stroke-width="1.3"/>
<path d="M8.1 489.1L11.2 483.5L14.299999999999999 489.1Z" fill="#111"/>
<path d="M41.7 516.5L47.1 519.3L41.7 522.0999999999999Z" fill="#111"/>
<text x="0" y="0" font-size="7.5" font-weight="bold" font-family='"Liberation Serif", serif' text-anchor="start" font-style="normal" fill="#111" textLength="12" lengthAdjust="spacingAndGlyphs" transform="translate(5.0 517.6999999999999) rotate(-90)" stroke="#111" stroke-width="0.3">IgG</text>
<text x="17.9" y="529.7" font-size="7.5" font-weight="bold" font-family='"Liberation Serif", serif' text-anchor="start" font-style="normal" fill="#111" textLength="14.4" lengthAdjust="spacingAndGlyphs"  stroke="#111" stroke-width="0.3">CD3</text>
<line x1="139.8" y1="519.9" x2="139.8" y2="487.5" stroke="#111" stroke-width="1.3"/>
<line x1="139.8" y1="519.3" x2="171.5" y2="519.3" stroke="#111" stroke-width="1.3"/>
<path d="M136.70000000000002 489.1L139.8 483.5L142.9 489.1Z" fill="#111"/>
<path d="M170.1 516.5L175.5 519.3L170.1 522.0999999999999Z" fill="#111"/>
<text x="0" y="0" font-size="7.5" font-weight="bold" font-family='"Liberation Serif", serif' text-anchor="start" font-style="normal" fill="#111" textLength="17.3" lengthAdjust="spacingAndGlyphs" transform="translate(133.6 517.6999999999999) rotate(-90)" stroke="#111" stroke-width="0.3">IL-10</text>
<text x="146.1" y="529.7" font-size="7.5" font-weight="bold" font-family='"Liberation Serif", serif' text-anchor="start" font-style="normal" fill="#111" textLength="14.9" lengthAdjust="spacingAndGlyphs"  stroke="#111" stroke-width="0.3">CD3</text>
<text x="24.2" y="552.3" font-size="11.2" font-weight="bold" font-family='"Liberation Sans", sans-serif' text-anchor="start" font-style="normal" fill="#111"  stroke="#111" stroke-width="0.3">F</text>
<text x="38" y="562" font-size="6.5" font-weight="bold" font-family='"Liberation Serif", serif' text-anchor="start" font-style="normal" fill="#111" textLength="11.3" lengthAdjust="spacingAndGlyphs"  stroke="#111" stroke-width="0.3">[%]</text>
<text x="96.3" y="558" font-size="7.5" font-weight="normal" font-family='"Liberation Serif", serif' text-anchor="start" font-style="italic" fill="#111" textLength="22.5" lengthAdjust="spacingAndGlyphs"  stroke="#111" stroke-width="0.15">P = .01</text>
<path d="M81.3 570.5V561H132V570.5" fill="none" stroke="#111" stroke-width="1.2"/>
<line x1="49.5" y1="569.7" x2="49.5" y2="683.4" stroke="#111" stroke-width="1.3"/>
<line x1="48.9" y1="683.4" x2="157.5" y2="683.4" stroke="#111" stroke-width="1.3"/>
<line x1="47.0" y1="570.2" x2="49.5" y2="570.2" stroke="#111" stroke-width="1.1"/>
<text x="45" y="572.4100000000001" font-size="6.5" font-weight="bold" font-family='"Liberation Serif", serif' text-anchor="end" font-style="normal" fill="#111"  stroke="#111" stroke-width="0.3">8</text>
<line x1="47.0" y1="598.4" x2="49.5" y2="598.4" stroke="#111" stroke-width="1.1"/>
<text x="45" y="600.61" font-size="6.5" font-weight="bold" font-family='"Liberation Serif", serif' text-anchor="end" font-style="normal" fill="#111"  stroke="#111" stroke-width="0.3">6</text>
<line x1="47.0" y1="626.7" x2="49.5" y2="626.7" stroke="#111" stroke-width="1.1"/>
<text x="45" y="628.9100000000001" font-size="6.5" font-weight="bold" font-family='"Liberation Serif", serif' text-anchor="end" font-style="normal" fill="#111"  stroke="#111" stroke-width="0.3">4</text>
<line x1="47.0" y1="654.9" x2="49.5" y2="654.9" stroke="#111" stroke-width="1.1"/>
<text x="45" y="657.11" font-size="6.5" font-weight="bold" font-family='"Liberation Serif", serif' text-anchor="end" font-style="normal" fill="#111"  stroke="#111" stroke-width="0.3">2</text>
<line x1="47.0" y1="683.4" x2="49.5" y2="683.4" stroke="#111" stroke-width="1.1"/>
<text x="45" y="685.61" font-size="6.5" font-weight="bold" font-family='"Liberation Serif", serif' text-anchor="end" font-style="normal" fill="#111"  stroke="#111" stroke-width="0.3">0</text>
<line x1="75.5" y1="683.4" x2="75.5" y2="686.6" stroke="#111" stroke-width="1.2"/>
<line x1="130.8" y1="683.4" x2="130.8" y2="686.6" stroke="#111" stroke-width="1.2"/>
<line x1="76.7" y1="659.2" x2="76.7" y2="658.5" stroke="#111" stroke-width="1.2"/>
<line x1="69.7" y1="658.5" x2="83.7" y2="658.5" stroke="#111" stroke-width="1.2"/>
<rect x="58.6" y="659.8000000000001" width="36.2" height="23.59999999999993" fill="#0a0a0a" stroke="#111" stroke-width="1.2"/>
<line x1="130.45" y1="610.7" x2="130.45" y2="595.9" stroke="#111" stroke-width="1.2"/>
<line x1="120.94999999999999" y1="595.9" x2="139.95" y2="595.9" stroke="#111" stroke-width="1.2"/>
<rect x="112.6" y="611.3000000000001" width="35.7" height="72.09999999999994" fill="#d4d4d4" stroke="#111" stroke-width="1.2"/>
<text x="368.3" y="552.2" font-size="11.2" font-weight="bold" font-family='"Liberation Sans", sans-serif' text-anchor="start" font-style="normal" fill="#111"  stroke="#111" stroke-width="0.3">G</text>
<text x="377" y="562.5" font-size="6.8" font-weight="bold" font-family='"Liberation Serif", serif' text-anchor="start" font-style="normal" fill="#111" textLength="16.8" lengthAdjust="spacingAndGlyphs"  stroke="#111" stroke-width="0.3">[x10<tspan font-size="4.5" dy="-2.2">6</tspan><tspan dy="2.2">]</tspan></text>
<text x="433.3" y="556.8" font-size="7.5" font-weight="normal" font-family='"Liberation Serif", serif' text-anchor="start" font-style="italic" fill="#111" textLength="22.2" lengthAdjust="spacingAndGlyphs"  stroke="#111" stroke-width="0.15">P = .04</text>
<path d="M418 569.3V560.5H469.3V569.3" fill="none" stroke="#111" stroke-width="1.2"/>
<line x1="390.3" y1="572.5" x2="390.3" y2="683.7" stroke="#111" stroke-width="1.3"/>
<line x1="389.7" y1="683.7" x2="496.6" y2="683.7" stroke="#111" stroke-width="1.3"/>
<line x1="387.8" y1="573" x2="390.3" y2="573" stroke="#111" stroke-width="1.1"/>
<text x="386.2" y="575.21" font-size="6.5" font-weight="bold" font-family='"Liberation Serif", serif' text-anchor="end" font-style="normal" fill="#111"  stroke="#111" stroke-width="0.3">0.3</text>
<line x1="387.8" y1="609.9" x2="390.3" y2="609.9" stroke="#111" stroke-width="1.1"/>
<text x="386.2" y="612.11" font-size="6.5" font-weight="bold" font-family='"Liberation Serif", serif' text-anchor="end" font-style="normal" fill="#111"  stroke="#111" stroke-width="0.3">0.2</text>
<line x1="387.8" y1="646.9" x2="390.3" y2="646.9" stroke="#111" stroke-width="1.1"/>
<text x="386.2" y="649.11" font-size="6.5" font-weight="bold" font-family='"Liberation Serif", serif' text-anchor="end" font-style="normal" fill="#111"  stroke="#111" stroke-width="0.3">0.1</text>
<line x1="387.8" y1="683.7" x2="390.3" y2="683.7" stroke="#111" stroke-width="1.1"/>
<text x="386.2" y="685.9100000000001" font-size="6.5" font-weight="bold" font-family='"Liberation Serif", serif' text-anchor="end" font-style="normal" fill="#111"  stroke="#111" stroke-width="0.3">0.0</text>
<line x1="416.2" y1="683.7" x2="416.2" y2="686.9000000000001" stroke="#111" stroke-width="1.2"/>
<line x1="468.8" y1="683.7" x2="468.8" y2="686.9000000000001" stroke="#111" stroke-width="1.2"/>
<line x1="416.5" y1="674.4" x2="416.5" y2="672.8" stroke="#111" stroke-width="1.2"/>
<line x1="407.5" y1="672.8" x2="425.5" y2="672.8" stroke="#111" stroke-width="1.2"/>
<rect x="399.1" y="675.0" width="34.8" height="8.700000000000069" fill="#0a0a0a" stroke="#111" stroke-width="1.2"/>
<line x1="468.9" y1="608.5" x2="468.9" y2="575.4" stroke="#111" stroke-width="1.2"/>
<line x1="459.9" y1="575.4" x2="477.9" y2="575.4" stroke="#111" stroke-width="1.2"/>
<rect x="451.90000000000003" y="609.1" width="33.999999999999986" height="74.60000000000005" fill="#d4d4d4" stroke="#111" stroke-width="1.2"/>
<rect x="176.6" y="662.9" width="180.4" height="20.6" fill="#fff" stroke="#111" stroke-width="1.5"/>
<rect x="187.0" y="668.4" width="4.7000000000000055" height="4.8" fill="#0a0a0a" stroke="#111" stroke-width="1.2"/>
<text x="197.7" y="676.3" font-size="8" font-weight="bold" font-family='"Liberation Serif", serif' text-anchor="start" font-style="normal" fill="#111" textLength="28.8" lengthAdjust="spacingAndGlyphs"  stroke="#111" stroke-width="0.3">BALB/c</text>
<text x="226.21" y="677.24" font-size="11.71" font-weight="bold" font-family='"DejaVu Sans", sans-serif' text-anchor="start" font-style="normal" fill="#111" >&#10132;</text>
<text x="236" y="676.3" font-size="8" font-weight="bold" font-family='"Liberation Serif", serif' text-anchor="start" font-style="normal" fill="#111" textLength="9.5" lengthAdjust="spacingAndGlyphs"  stroke="#111" stroke-width="0.3">B6</text>
<rect x="254.29999999999998" y="668.8000000000001" width="4.700000000000034" height="4.599999999999954" fill="#d4d4d4" stroke="#111" stroke-width="1.2"/>
<text x="261.2" y="676.3" font-size="8" font-weight="bold" font-family='"Liberation Serif", serif' text-anchor="start" font-style="normal" fill="#111" textLength="29.2" lengthAdjust="spacingAndGlyphs"  stroke="#111" stroke-width="0.3">BALB/c</text>
<text x="292.2" y="676.3" font-size="8" font-weight="bold" font-family='"Liberation Serif", serif' text-anchor="start" font-style="normal" fill="#111" textLength="37.5" lengthAdjust="spacingAndGlyphs"  stroke="#111" stroke-width="0.3">(CD8<tspan font-size="5" dy="-3.2">+</tspan><tspan dy="3.2">DC)</tspan></text>
<text x="329.47" y="677.15" font-size="10.57" font-weight="bold" font-family='"DejaVu Sans", sans-serif' text-anchor="start" font-style="normal" fill="#111" >&#10132;</text>
<text x="341.6" y="676.3" font-size="8" font-weight="bold" font-family='"Liberation Serif", serif' text-anchor="start" font-style="normal" fill="#111" textLength="9.1" lengthAdjust="spacingAndGlyphs"  stroke="#111" stroke-width="0.3">B6</text>
</svg></body></html>
